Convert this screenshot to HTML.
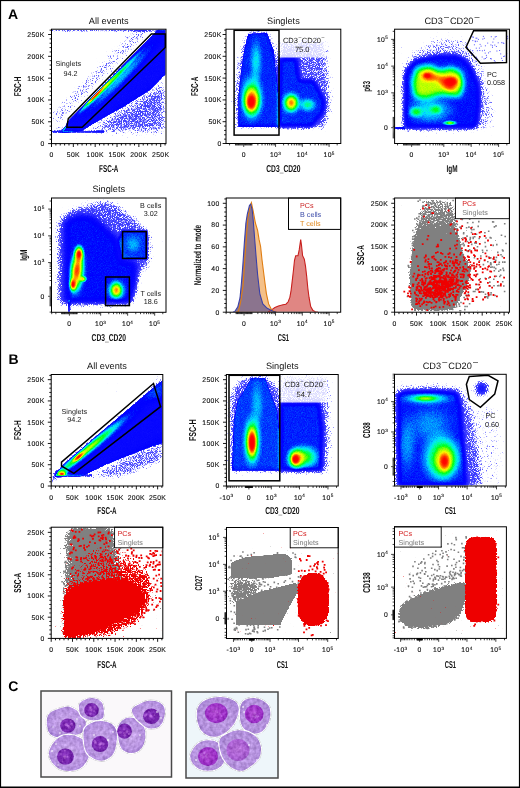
<!DOCTYPE html>
<html><head><meta charset="utf-8"><style>
html,body{margin:0;padding:0;background:#fff;width:520px;height:788px;overflow:hidden}
svg{display:block;will-change:transform}
text{font-family:"Liberation Sans", sans-serif;text-rendering:geometricPrecision}
</style></head><body>
<svg width="520" height="788" viewBox="0 0 520 788" xmlns="http://www.w3.org/2000/svg" font-family='"Liberation Sans", sans-serif'>
<defs><filter id="jet" x="0" y="0" width="520" height="788" filterUnits="userSpaceOnUse" color-interpolation-filters="sRGB">
<feGaussianBlur in="SourceAlpha" stdDeviation="0.7" result="b"/>
<feColorMatrix in="b" type="matrix" values="0 0 0 1 0 0 0 0 1 0 0 0 0 1 0 0 0 0 0 1" result="g"/>
<feTurbulence type="fractalNoise" baseFrequency="1.2" numOctaves="2" seed="3" result="n"/>
<feColorMatrix in="n" type="matrix" values="1 0 0 0 0 1 0 0 0 0 1 0 0 0 0 0 0 0 0 1" result="ng"/>
<feComposite in="g" in2="ng" operator="arithmetic" k1="-0.25" k2="1.125" k3="0.25" k4="-0.125" result="gc"/>
<feComponentTransfer in="gc" result="col"><feFuncR type="table" tableValues="0.42 0.408 0.397 0.385 0.373 0.362 0.35 0.339 0.327 0.315 0.304 0.292 0.28 0.269 0.257 0.245 0.234 0.222 0.21 0.198 0.181 0.164 0.148 0.131 0.114 0.0967 0.0798 0.0629 0.0459 0.0362 0.0305 0.0247 0.0189 0.0132 0.00739 0.00162 0 0 0 0 0 0 0 0 0 0 0 0 0 0 0 0 0.185 0.375 0.566 0.73 0.889 1 1 1 1 1 1 1"/><feFuncG type="table" tableValues="0.42 0.408 0.397 0.385 0.373 0.362 0.35 0.339 0.327 0.315 0.304 0.292 0.28 0.269 0.257 0.245 0.234 0.222 0.21 0.198 0.181 0.164 0.148 0.131 0.114 0.0967 0.0798 0.0629 0.0459 0.0362 0.0305 0.0247 0.0189 0.0132 0.00739 0.00162 0.0457 0.109 0.173 0.263 0.374 0.486 0.597 0.708 0.819 0.909 0.94 0.972 1 1 1 1 1 1 1 1 1 0.94 0.742 0.544 0.361 0.182 0.0397 0"/><feFuncB type="table" tableValues="1 1 1 1 1 1 1 1 1 1 1 1 1 1 1 1 1 1 1 1 1 1 1 1 1 1 1 1 1 1 1 1 1 1 1 1 1 1 1 1 1 1 1 1 1 0.966 0.839 0.712 0.581 0.422 0.263 0.105 0.0692 0.0375 0.00571 0 0 0 0 0 0 0 0 0"/></feComponentTransfer>
<feComposite in="g" in2="ng" operator="arithmetic" k1="0" k2="1" k3="-0.5" k4="0.5" result="d"/>
<feColorMatrix in="d" type="matrix" values="0 0 0 0 0 0 0 0 0 0 0 0 0 0 0 1 0 0 0 0" result="d2"/>
<feComponentTransfer in="d2" result="m"><feFuncA type="table" tableValues="0.00 0.00 0.00 0.00 0.00 0.00 0.00 0.00 0.00 0.00 0.00 0.00 0.00 0.00 0.00 0.00 0.00 0.00 0.00 0.00 0.00 0.12 0.37 0.63 0.87 1.00 1.00 1.00 1.00 1.00 1.00 1.00 1.00 1.00 1.00 1.00 1.00 1.00 1.00 1.00 1.00 1.00 1.00 1.00 1.00 1.00 1.00 1.00 1.00 1.00"/></feComponentTransfer>
<feComposite in="col" in2="m" operator="in" result="c2"/>
<feGaussianBlur in="c2" stdDeviation="0.4"/>
</filter><radialGradient id="rgf"><stop offset="0" stop-opacity="1"/><stop offset="0.45" stop-opacity="0.93"/><stop offset="0.7" stop-opacity="0.6"/><stop offset="0.88" stop-opacity="0.2"/><stop offset="1" stop-opacity="0"/></radialGradient><radialGradient id="rg"><stop offset="0" stop-opacity="1"/><stop offset="0.2" stop-opacity="0.92"/><stop offset="0.4" stop-opacity="0.7"/><stop offset="0.6" stop-opacity="0.42"/><stop offset="0.8" stop-opacity="0.16"/><stop offset="1" stop-opacity="0"/></radialGradient><filter id="bl0_5" x="0" y="0" width="520" height="788" filterUnits="userSpaceOnUse"><feGaussianBlur stdDeviation="0.5"/></filter><filter id="bl1" x="0" y="0" width="520" height="788" filterUnits="userSpaceOnUse"><feGaussianBlur stdDeviation="1"/></filter><filter id="bl1_5" x="0" y="0" width="520" height="788" filterUnits="userSpaceOnUse"><feGaussianBlur stdDeviation="1.5"/></filter><filter id="bl2" x="0" y="0" width="520" height="788" filterUnits="userSpaceOnUse"><feGaussianBlur stdDeviation="2"/></filter><filter id="bl2_5" x="0" y="0" width="520" height="788" filterUnits="userSpaceOnUse"><feGaussianBlur stdDeviation="2.5"/></filter><filter id="bl3" x="0" y="0" width="520" height="788" filterUnits="userSpaceOnUse"><feGaussianBlur stdDeviation="3"/></filter><filter id="bl4" x="0" y="0" width="520" height="788" filterUnits="userSpaceOnUse"><feGaussianBlur stdDeviation="4"/></filter><filter id="bl6" x="0" y="0" width="520" height="788" filterUnits="userSpaceOnUse"><feGaussianBlur stdDeviation="6"/></filter><filter id="mg" x="0" y="0" width="520" height="788" filterUnits="userSpaceOnUse" color-interpolation-filters="sRGB">
<feGaussianBlur in="SourceAlpha" stdDeviation="0.6" result="b"/>
<feColorMatrix in="b" type="matrix" values="0 0 0 1 0 0 0 0 1 0 0 0 0 1 0 0 0 0 0 1" result="g"/>
<feTurbulence type="fractalNoise" baseFrequency="0.6" numOctaves="2" seed="11" result="n"/>
<feColorMatrix in="n" type="matrix" values="1 0 0 0 0 1 0 0 0 0 1 0 0 0 0 0 0 0 0 1" result="ng"/>
<feComposite in="g" in2="ng" operator="arithmetic" k1="0" k2="1" k3="-0.6" k4="0.6" result="d"/>
<feColorMatrix in="d" type="matrix" values="0 0 0 0 0 0 0 0 0 0 0 0 0 0 0 1 0 0 0 0" result="d2"/>
<feComponentTransfer in="d2" result="m"><feFuncA type="table" tableValues="0.00 0.00 0.00 0.00 0.00 0.00 0.00 0.00 0.00 0.00 0.00 0.00 0.00 0.00 0.00 0.00 0.00 0.00 0.00 0.00 0.00 0.00 0.00 0.00 0.10 0.50 0.90 1.00 1.00 1.00 1.00 1.00 1.00 1.00 1.00 1.00 1.00 1.00 1.00 1.00 1.00 1.00 1.00 1.00 1.00 1.00 1.00 1.00 1.00 1.00"/></feComponentTransfer>
<feFlood flood-color="#808080" result="fl"/>
<feComposite in="fl" in2="m" operator="in" result="c2"/>
<feGaussianBlur in="c2" stdDeviation="0.25"/>
</filter><linearGradient id="vg6" gradientUnits="userSpaceOnUse" x1="0" y1="198" x2="0" y2="255"><stop offset="0" stop-opacity="0.2"/><stop offset="0.45" stop-opacity="0.3"/><stop offset="1" stop-opacity="0.75"/></linearGradient><filter id="mr" x="0" y="0" width="520" height="788" filterUnits="userSpaceOnUse" color-interpolation-filters="sRGB">
<feGaussianBlur in="SourceAlpha" stdDeviation="0.6" result="b"/>
<feColorMatrix in="b" type="matrix" values="0 0 0 1 0 0 0 0 1 0 0 0 0 1 0 0 0 0 0 1" result="g"/>
<feTurbulence type="fractalNoise" baseFrequency="0.6" numOctaves="2" seed="13" result="n"/>
<feColorMatrix in="n" type="matrix" values="1 0 0 0 0 1 0 0 0 0 1 0 0 0 0 0 0 0 0 1" result="ng"/>
<feComposite in="g" in2="ng" operator="arithmetic" k1="0" k2="1" k3="-0.6" k4="0.6" result="d"/>
<feColorMatrix in="d" type="matrix" values="0 0 0 0 0 0 0 0 0 0 0 0 0 0 0 1 0 0 0 0" result="d2"/>
<feComponentTransfer in="d2" result="m"><feFuncA type="table" tableValues="0.00 0.00 0.00 0.00 0.00 0.00 0.00 0.00 0.00 0.00 0.00 0.00 0.00 0.00 0.00 0.00 0.00 0.00 0.00 0.00 0.00 0.00 0.00 0.00 0.10 0.50 0.90 1.00 1.00 1.00 1.00 1.00 1.00 1.00 1.00 1.00 1.00 1.00 1.00 1.00 1.00 1.00 1.00 1.00 1.00 1.00 1.00 1.00 1.00 1.00"/></feComponentTransfer>
<feFlood flood-color="#ee0000" result="fl"/>
<feComposite in="fl" in2="m" operator="in" result="c2"/>
<feGaussianBlur in="c2" stdDeviation="0.25"/>
</filter><linearGradient id="vg10" gradientUnits="userSpaceOnUse" x1="0" y1="560" x2="0" y2="600"><stop offset="0" stop-opacity="0.06"/><stop offset="0.6" stop-opacity="0.2"/><stop offset="1" stop-opacity="0.3"/></linearGradient><radialGradient id="cyt1" cx="0.5" cy="0.5" r="0.6"><stop offset="0" stop-color="#c7a6e8"/><stop offset="0.7" stop-color="#b692df"/><stop offset="1" stop-color="#9f7bd4"/></radialGradient><filter id="tex" x="0" y="0" width="520" height="788" filterUnits="userSpaceOnUse" color-interpolation-filters="sRGB"><feTurbulence type="fractalNoise" baseFrequency="0.3" numOctaves="2" seed="9" result="n"/><feColorMatrix in="n" type="matrix" values="1 0 0 0 0 1 0 0 0 0 1 0 0 0 0 0 0 0 0 1" result="ng"/><feComposite in="SourceGraphic" in2="ng" operator="arithmetic" k1="0" k2="1" k3="0.3" k4="-0.15" result="t"/><feComposite in="t" in2="SourceAlpha" operator="in" result="t2"/><feGaussianBlur in="t2" stdDeviation="0.4"/></filter><radialGradient id="cyt2" cx="0.5" cy="0.5" r="0.6"><stop offset="0" stop-color="#c0a0e4"/><stop offset="0.7" stop-color="#b390dc"/><stop offset="1" stop-color="#a07cd2"/></radialGradient><radialGradient id="nuc1" cx="0.45" cy="0.45" r="0.6"><stop offset="0" stop-color="#8a34c0"/><stop offset="0.75" stop-color="#7324aa"/><stop offset="1" stop-color="#6a20a0"/></radialGradient><radialGradient id="nuc2" cx="0.45" cy="0.45" r="0.6"><stop offset="0" stop-color="#b04ad0"/><stop offset="0.75" stop-color="#9a2ec4"/><stop offset="1" stop-color="#8a28b6"/></radialGradient><filter id="cb" x="-20%" y="-20%" width="140%" height="140%"><feGaussianBlur stdDeviation="0.45"/></filter><clipPath id="cc1"><rect x="41.7" y="691.7" width="129" height="84.6"/></clipPath><clipPath id="cc2"><rect x="186.7" y="692.7" width="90.6" height="84.6"/></clipPath><clipPath id="c1"><rect x="52.00" y="29.70" width="113.50" height="113.40"/></clipPath><clipPath id="c2"><rect x="226.50" y="29.70" width="113.80" height="113.30"/></clipPath><clipPath id="c3"><rect x="395.10" y="29.70" width="113.80" height="113.30"/></clipPath><clipPath id="c4"><rect x="52.00" y="198.50" width="113.50" height="113.30"/></clipPath><clipPath id="c5"><rect x="226.70" y="198.50" width="113.50" height="113.20"/></clipPath><clipPath id="c6"><rect x="395.10" y="198.50" width="113.80" height="113.20"/></clipPath><clipPath id="c7"><rect x="51.70" y="375.00" width="110.60" height="110.50"/></clipPath><clipPath id="c8"><rect x="226.90" y="375.00" width="110.80" height="110.50"/></clipPath><clipPath id="c9"><rect x="395.00" y="374.80" width="110.70" height="110.70"/></clipPath><clipPath id="c10"><rect x="51.70" y="527.70" width="110.60" height="110.20"/></clipPath><clipPath id="c11"><rect x="227.00" y="528.00" width="110.70" height="110.00"/></clipPath><clipPath id="c12"><rect x="395.00" y="527.30" width="110.90" height="110.60"/></clipPath></defs>
<rect x="0" y="0" width="520" height="788" fill="#fff"/>
<g clip-path="url(#c1)"><g filter="url(#jet)"><polygon points="58.1,125.4 157.9,23.7 148.3,14.2 47.1,117.4" fill-opacity="0.16" filter="url(#bl3)"/><polygon points="60.0,133.0 68.0,126.0 60.0,126.0 53.0,131.0" fill-opacity="0.22" filter="url(#bl2)"/><polygon points="84.0,133.0 166.0,80.0 166.0,133.0" fill-opacity="0.24" filter="url(#bl4)"/><polygon points="67.3,121.8 162.2,25.1 166.0,30.0 166.0,74.0 150.0,90.0 125.0,106.0 105.0,117.0 90.0,126.0 82.0,131.0 62.0,133.0" fill-opacity="0.47" filter="url(#bl1_2)"/><rect x="52" y="130.6" width="52" height="2.200000000000017" fill-opacity="0.32" filter="url(#bl0_6)"/><rect x="52" y="30" width="114" height="1.6000000000000014" fill-opacity="0.2" filter="url(#bl0_5)"/><ellipse cx="120.4" cy="78.4" rx="75" ry="9" fill="url(#rg)" opacity="0.42" transform="rotate(-45.6 120.4 78.4)"/><ellipse cx="108.9" cy="83.7" rx="62" ry="3.2" fill="url(#rg)" opacity="0.62" transform="rotate(-45.6 108.9 83.7)"/><ellipse cx="97.2" cy="93.8" rx="34" ry="2.0" fill="url(#rg)" opacity="0.8" transform="rotate(-45.6 97.2 93.8)"/><ellipse cx="95.6" cy="95.5" rx="13" ry="1.5" fill="url(#rg)" opacity="0.86" transform="rotate(-45.6 95.6 95.5)"/><ellipse cx="64" cy="129" rx="7" ry="1.4" fill="url(#rg)" opacity="0.6" transform="rotate(-45.6 64 129)"/></g></g><polygon points="66.8,127.2 68.3,118.6 151.3,34.0 165.3,34.0 165.3,47.5 82.2,127.2" fill="none" stroke="#000" stroke-width="1.5" stroke-linejoin="miter"/><text x="68.20" y="66.10" font-size="7.2" text-anchor="middle" fill="#1a1a1a" font-weight="normal" >Singlets</text><text x="70.50" y="75.60" font-size="7.2" text-anchor="middle" fill="#1a1a1a" font-weight="normal" >94.2</text><path d="M51.50 143.60v3.4M55.87 143.60v1.9M60.24 143.60v1.9M64.60 143.60v1.9M68.97 143.60v1.9M73.34 143.60v3.4M77.71 143.60v1.9M82.07 143.60v1.9M86.44 143.60v1.9M90.81 143.60v1.9M95.18 143.60v3.4M99.55 143.60v1.9M103.91 143.60v1.9M108.28 143.60v1.9M112.65 143.60v1.9M117.02 143.60v3.4M121.39 143.60v1.9M125.75 143.60v1.9M130.12 143.60v1.9M134.49 143.60v1.9M138.86 143.60v3.4M143.22 143.60v1.9M147.59 143.60v1.9M151.96 143.60v1.9M156.33 143.60v1.9M160.70 143.60v3.4M165.06 143.60v1.9" stroke="#000" stroke-width="0.9" fill="none"/><text x="51.50" y="157.40" font-size="6.8" letter-spacing="0.35" text-anchor="middle" fill="#111" stroke="#111" stroke-width="0.12">0</text><text x="73.34" y="157.40" font-size="6.8" letter-spacing="0.35" text-anchor="middle" fill="#111" stroke="#111" stroke-width="0.12">50K</text><text x="95.18" y="157.40" font-size="6.8" letter-spacing="0.35" text-anchor="middle" fill="#111" stroke="#111" stroke-width="0.12">100K</text><text x="117.02" y="157.40" font-size="6.8" letter-spacing="0.35" text-anchor="middle" fill="#111" stroke="#111" stroke-width="0.12">150K</text><text x="138.86" y="157.40" font-size="6.8" letter-spacing="0.35" text-anchor="middle" fill="#111" stroke="#111" stroke-width="0.12">200K</text><text x="160.70" y="157.40" font-size="6.8" letter-spacing="0.35" text-anchor="middle" fill="#111" stroke="#111" stroke-width="0.12">250K</text><path d="M51.50 143.60h-3.4M51.50 139.24h-1.9M51.50 134.87h-1.9M51.50 130.51h-1.9M51.50 126.14h-1.9M51.50 121.78h-3.4M51.50 117.42h-1.9M51.50 113.05h-1.9M51.50 108.69h-1.9M51.50 104.32h-1.9M51.50 99.96h-3.4M51.50 95.60h-1.9M51.50 91.23h-1.9M51.50 86.87h-1.9M51.50 82.50h-1.9M51.50 78.14h-3.4M51.50 73.78h-1.9M51.50 69.41h-1.9M51.50 65.05h-1.9M51.50 60.68h-1.9M51.50 56.32h-3.4M51.50 51.96h-1.9M51.50 47.59h-1.9M51.50 43.23h-1.9M51.50 38.86h-1.9M51.50 34.50h-3.4M51.50 30.14h-1.9" stroke="#000" stroke-width="0.9" fill="none"/><text x="44.55" y="146.00" font-size="6.8" letter-spacing="0.35" text-anchor="end" fill="#111" stroke="#111" stroke-width="0.12">0</text><text x="44.55" y="124.18" font-size="6.8" letter-spacing="0.35" text-anchor="end" fill="#111" stroke="#111" stroke-width="0.12">50K</text><text x="44.55" y="102.36" font-size="6.8" letter-spacing="0.35" text-anchor="end" fill="#111" stroke="#111" stroke-width="0.12">100K</text><text x="44.55" y="80.54" font-size="6.8" letter-spacing="0.35" text-anchor="end" fill="#111" stroke="#111" stroke-width="0.12">150K</text><text x="44.55" y="58.72" font-size="6.8" letter-spacing="0.35" text-anchor="end" fill="#111" stroke="#111" stroke-width="0.12">200K</text><text x="44.55" y="36.90" font-size="6.8" letter-spacing="0.35" text-anchor="end" fill="#111" stroke="#111" stroke-width="0.12">250K</text><rect x="51.50" y="29.20" width="114.50" height="114.40" fill="none" stroke="#000" stroke-width="1.0"/><text x="108.75" y="23.60" font-size="9.2" text-anchor="middle" fill="#111" font-weight="normal" >All events</text><text transform="translate(108.75,171.80) scale(0.63,1)" font-size="10" font-weight="bold" text-anchor="middle" fill="#111">FSC-A</text><text transform="translate(20.80,86.40) rotate(-90) scale(0.64,1)" font-size="10" font-weight="bold" text-anchor="middle" fill="#111">FSC-H</text><g clip-path="url(#c2)"><g filter="url(#jet)"><polygon points="234.0,128.0 234.0,95.0 238.0,60.0 244.0,38.0 250.0,30.0 268.0,30.0 274.0,45.0 279.0,70.0 282.0,128.0" fill-opacity="0.24" filter="url(#bl3)"/><polygon points="238.5,127.0 238.6,96.0 241.0,73.0 244.3,51.0 248.0,34.0 267.0,33.0 273.8,51.0 276.0,73.0 278.3,96.0 279.0,127.0" fill-opacity="0.47" filter="url(#bl1_8)"/><ellipse cx="256" cy="62" rx="8" ry="28" fill="url(#rg)" opacity="0.3"/><ellipse cx="252" cy="98" rx="14" ry="28" fill="url(#rg)" opacity="0.66"/><ellipse cx="251.5" cy="101" rx="11" ry="18" fill="url(#rg)" opacity="0.86"/><ellipse cx="251.1" cy="102.9" rx="6" ry="9.5" fill="url(#rg)" opacity="0.95"/><polygon points="279.0,127.0 279.0,58.0 297.0,58.0 300.0,80.0 314.0,80.0 325.0,100.0 324.0,112.0 312.0,127.0" fill-opacity="0.47" filter="url(#bl2)"/><polygon points="279.0,128.0 279.0,40.0 326.0,40.0 331.0,100.0 327.0,129.0" fill-opacity="0.24" filter="url(#bl3)"/><ellipse cx="291.3" cy="102.9" rx="12.5" ry="14" fill="url(#rg)" opacity="0.56"/><ellipse cx="291.3" cy="102.9" rx="8.5" ry="10.5" fill="url(#rg)" opacity="0.68"/><ellipse cx="307.7" cy="104.8" rx="11" ry="9" fill="url(#rg)" opacity="0.42"/></g><rect x="280" y="30" width="46" height="27.5" fill="#fff" fill-opacity="0.8"/></g><rect x="234.1" y="30.3" width="44.900000000000006" height="104.8" fill="none" stroke="#000" stroke-width="1.5"/><text x="303.70" y="42.80" font-size="7.5" text-anchor="middle" fill="#1a1a1a" font-weight="normal" >CD3<tspan dx="0.5" dy="-3.9" font-size="5.2">–</tspan><tspan dx="0.5" dy="3.9">CD20</tspan><tspan dx="0.5" dy="-3.9" font-size="5.2">–</tspan></text><text x="302.20" y="52.40" font-size="7.5" text-anchor="middle" fill="#1a1a1a" font-weight="normal" >75.0</text><path d="M251.96 143.50v1.9M235.47 143.50v1.9M257.86 143.50v1.9M229.57 143.50v1.9M262.02 143.50v1.9M265.15 143.50v1.9M267.65 143.50v1.9M269.71 143.50v1.9M271.47 143.50v1.9M273.00 143.50v1.9M274.35 143.50v1.9M275.57 143.50v3.4M283.60 143.50v1.9M288.31 143.50v1.9M291.65 143.50v1.9M294.25 143.50v1.9M296.37 143.50v1.9M298.16 143.50v1.9M299.72 143.50v1.9M301.09 143.50v1.9M302.31 143.50v3.4M310.38 143.50v1.9M315.09 143.50v1.9M318.44 143.50v1.9M321.04 143.50v1.9M323.16 143.50v1.9M324.95 143.50v1.9M326.51 143.50v1.9M327.88 143.50v1.9M329.10 143.50v3.4M337.17 143.50v1.9M243.72 143.50v3.4M244.61 143.50v1.9M242.82 143.50v1.9M245.50 143.50v1.9M241.93 143.50v1.9M246.38 143.50v1.9M241.05 143.50v1.9M247.24 143.50v1.9M240.19 143.50v1.9M248.09 143.50v1.9M239.34 143.50v1.9M248.91 143.50v1.9M238.52 143.50v1.9M249.71 143.50v1.9M237.72 143.50v1.9M250.49 143.50v1.9M236.94 143.50v1.9M251.24 143.50v1.9M236.20 143.50v1.9" stroke="#000" stroke-width="0.75" fill="none"/><text x="243.72" y="157.30" font-size="6.8" letter-spacing="0.35" text-anchor="middle" fill="#111" stroke="#111" stroke-width="0.12">0</text><text x="275.57" y="157.30" font-size="6.8" letter-spacing="0.35" text-anchor="middle" fill="#111" stroke="#111" stroke-width="0.12">10<tspan dy="-2.6" font-size="4.6">3</tspan></text><text x="302.31" y="157.30" font-size="6.8" letter-spacing="0.35" text-anchor="middle" fill="#111" stroke="#111" stroke-width="0.12">10<tspan dy="-2.6" font-size="4.6">4</tspan></text><text x="329.10" y="157.30" font-size="6.8" letter-spacing="0.35" text-anchor="middle" fill="#111" stroke="#111" stroke-width="0.12">10<tspan dy="-2.6" font-size="4.6">5</tspan></text><path d="M226.00 143.50h-3.4M226.00 139.14h-1.9M226.00 134.78h-1.9M226.00 130.42h-1.9M226.00 126.06h-1.9M226.00 121.70h-3.4M226.00 117.34h-1.9M226.00 112.98h-1.9M226.00 108.62h-1.9M226.00 104.26h-1.9M226.00 99.90h-3.4M226.00 95.54h-1.9M226.00 91.18h-1.9M226.00 86.82h-1.9M226.00 82.46h-1.9M226.00 78.10h-3.4M226.00 73.74h-1.9M226.00 69.38h-1.9M226.00 65.02h-1.9M226.00 60.66h-1.9M226.00 56.30h-3.4M226.00 51.94h-1.9M226.00 47.58h-1.9M226.00 43.22h-1.9M226.00 38.86h-1.9M226.00 34.50h-3.4M226.00 30.13h-1.9" stroke="#000" stroke-width="0.9" fill="none"/><text x="221.65" y="145.90" font-size="6.8" letter-spacing="0.35" text-anchor="end" fill="#111" stroke="#111" stroke-width="0.12">0</text><text x="221.65" y="124.10" font-size="6.8" letter-spacing="0.35" text-anchor="end" fill="#111" stroke="#111" stroke-width="0.12">50K</text><text x="221.65" y="102.30" font-size="6.8" letter-spacing="0.35" text-anchor="end" fill="#111" stroke="#111" stroke-width="0.12">100K</text><text x="221.65" y="80.50" font-size="6.8" letter-spacing="0.35" text-anchor="end" fill="#111" stroke="#111" stroke-width="0.12">150K</text><text x="221.65" y="58.70" font-size="6.8" letter-spacing="0.35" text-anchor="end" fill="#111" stroke="#111" stroke-width="0.12">200K</text><text x="221.65" y="36.90" font-size="6.8" letter-spacing="0.35" text-anchor="end" fill="#111" stroke="#111" stroke-width="0.12">250K</text><rect x="226.00" y="29.20" width="114.80" height="114.30" fill="none" stroke="#000" stroke-width="1.0"/><text x="283.40" y="23.60" font-size="9.2" text-anchor="middle" fill="#111" font-weight="normal" >Singlets</text><text transform="translate(283.40,171.70) scale(0.67,1)" font-size="10" font-weight="bold" text-anchor="middle" fill="#111">CD3_CD20</text><text transform="translate(198.40,86.35) rotate(-90) scale(0.63,1)" font-size="10" font-weight="bold" text-anchor="middle" fill="#111">FSC-A</text><g clip-path="url(#c3)"><g filter="url(#jet)"><polygon points="401.0,130.0 401.0,73.0 406.0,60.0 415.7,49.0 427.0,43.0 438.4,39.5 449.7,37.0 461.0,39.5 470.0,45.0 479.0,58.0 486.0,73.0 491.0,96.0 494.0,114.0 490.0,130.0" fill-opacity="0.18" filter="url(#bl4)"/><polygon points="404.3,128.5 404.3,76.0 406.6,68.8 415.7,59.8 438.4,55.2 456.5,55.2 465.6,59.8 472.4,68.8 479.2,84.7 480.0,102.9 478.0,123.3 475.0,128.5" fill-opacity="0.48" filter="url(#bl2)"/><polygon points="412.0,82.0 416.0,68.0 430.0,65.0 440.0,70.0 452.0,67.0 462.0,72.0 464.0,86.0 460.0,97.0 440.0,95.0 425.0,99.0 414.0,97.0" fill-opacity="0.7" filter="url(#bl3)"/><polygon points="425.0,77.0 440.0,75.0 452.0,80.0 455.0,90.0 448.0,90.0 438.0,82.0" fill-opacity="0.6" filter="url(#bl2)"/><ellipse cx="428" cy="76" rx="11" ry="8" fill="url(#rg)" opacity="0.75"/><ellipse cx="451" cy="82" rx="13" ry="10" fill="url(#rg)" opacity="0.88"/><ellipse cx="451" cy="81.3" rx="7.5" ry="5" fill="url(#rg)" opacity="1.0"/><ellipse cx="427" cy="75.6" rx="4.5" ry="3.2" fill="url(#rg)" opacity="1.0"/><ellipse cx="430" cy="110" rx="30" ry="18" fill="url(#rg)" opacity="0.36"/><ellipse cx="415.7" cy="112" rx="9" ry="7" fill="url(#rg)" opacity="0.45"/><ellipse cx="436" cy="109.7" rx="8" ry="6" fill="url(#rg)" opacity="0.35"/><ellipse cx="450" cy="123" rx="9" ry="3.2" fill="url(#rg)" opacity="0.7"/><rect x="395" y="126.8" width="10" height="2.500000000000014" fill-opacity="0.45" filter="url(#bl0_5)"/></g><rect x="485" y="68" width="24" height="19" fill="#fff" fill-opacity="0.8"/><path d="M482.3 39.1h1.0M494.7 37.0h1.0M490.4 44.9h1.0M472.7 37.4h1.0M486.1 57.3h1.0M474.7 41.0h1.0M493.8 60.6h1.0M491.9 45.7h1.0M507.1 36.3h1.0M502.6 42.8h1.0M475.5 38.2h1.0M481.7 57.0h1.0M476.9 50.7h1.0M494.3 45.1h1.0M490.8 36.7h1.0M472.3 40.6h1.0M495.9 46.5h1.0M481.9 50.8h1.0M487.2 43.1h1.0M500.2 53.9h1.0M479.3 50.5h1.0M490.0 58.6h1.0M497.7 42.8h1.0M507.2 38.2h1.0M485.9 55.4h1.0M475.8 48.2h1.0M499.1 50.5h1.0M503.3 43.5h1.0M496.4 51.0h1.0M492.0 47.3h1.0M501.9 60.5h1.0M488.0 52.9h1.0M494.6 61.8h1.0M501.2 42.7h1.0M484.7 53.1h1.0M476.4 38.2h1.0M474.9 41.7h1.0M484.9 58.5h1.0M490.9 58.9h1.0M501.1 58.3h1.0M480.6 46.2h1.0M483.6 58.9h1.0M506.4 39.1h1.0M476.7 41.3h1.0M478.9 48.1h1.0M492.4 42.1h1.0M484.0 50.3h1.0M506.2 53.6h1.0M489.6 51.7h1.0M495.7 36.5h1.0M504.2 56.1h1.0M503.2 56.5h1.0M484.9 45.8h1.0M472.4 36.8h1.0M477.9 39.4h1.0M482.9 36.4h1.0M473.9 44.8h1.0M493.3 39.0h1.0M479.6 44.4h1.0M483.8 38.3h1.0" stroke="#2020ff" stroke-width="1.0" opacity="0.75" fill="none"/></g><polygon points="473.6,30.7 506.5,30.7 506.5,62.5 480.4,63.2 466.0,47.3" fill="none" stroke="#000" stroke-width="1.5" stroke-linejoin="miter"/><text x="487.00" y="76.80" font-size="7.2" text-anchor="start" fill="#1a1a1a" font-weight="normal" >PC</text><text x="487.00" y="84.70" font-size="7.2" text-anchor="start" fill="#1a1a1a" font-weight="normal" >0.058</text><path d="M419.81 143.50v1.9M403.48 143.50v1.9M425.75 143.50v1.9M397.54 143.50v1.9M429.97 143.50v1.9M433.16 143.50v1.9M435.70 143.50v1.9M437.81 143.50v1.9M439.61 143.50v1.9M441.17 143.50v1.9M442.56 143.50v1.9M443.80 143.50v3.4M452.01 143.50v1.9M456.84 143.50v1.9M460.26 143.50v1.9M462.92 143.50v1.9M465.09 143.50v1.9M466.92 143.50v1.9M468.51 143.50v1.9M469.91 143.50v1.9M471.17 143.50v3.4M479.42 143.50v1.9M484.25 143.50v1.9M487.68 143.50v1.9M490.34 143.50v1.9M492.51 143.50v1.9M494.34 143.50v1.9M495.93 143.50v1.9M497.34 143.50v1.9M498.59 143.50v3.4M506.85 143.50v1.9M411.64 143.50v3.4M412.52 143.50v1.9M410.76 143.50v1.9M413.40 143.50v1.9M409.88 143.50v1.9M414.27 143.50v1.9M409.02 143.50v1.9M415.12 143.50v1.9M408.16 143.50v1.9M415.96 143.50v1.9M407.33 143.50v1.9M416.77 143.50v1.9M406.51 143.50v1.9M417.57 143.50v1.9M405.71 143.50v1.9M418.34 143.50v1.9M404.94 143.50v1.9M419.09 143.50v1.9M404.20 143.50v1.9" stroke="#000" stroke-width="0.75" fill="none"/><text x="411.64" y="157.30" font-size="6.8" letter-spacing="0.35" text-anchor="middle" fill="#111" stroke="#111" stroke-width="0.12">0</text><text x="443.80" y="157.30" font-size="6.8" letter-spacing="0.35" text-anchor="middle" fill="#111" stroke="#111" stroke-width="0.12">10<tspan dy="-2.6" font-size="4.6">3</tspan></text><text x="471.17" y="157.30" font-size="6.8" letter-spacing="0.35" text-anchor="middle" fill="#111" stroke="#111" stroke-width="0.12">10<tspan dy="-2.6" font-size="4.6">4</tspan></text><text x="498.59" y="157.30" font-size="6.8" letter-spacing="0.35" text-anchor="middle" fill="#111" stroke="#111" stroke-width="0.12">10<tspan dy="-2.6" font-size="4.6">5</tspan></text><path d="M394.60 117.42h-1.9M394.60 137.90h-1.9M394.60 110.89h-1.9M394.60 106.54h-1.9M394.60 103.33h-1.9M394.60 100.80h-1.9M394.60 98.72h-1.9M394.60 96.95h-1.9M394.60 95.41h-1.9M394.60 94.05h-1.9M394.60 92.84h-3.4M394.60 84.81h-1.9M394.60 80.10h-1.9M394.60 76.76h-1.9M394.60 74.17h-1.9M394.60 72.05h-1.9M394.60 70.26h-1.9M394.60 68.71h-1.9M394.60 67.35h-1.9M394.60 66.12h-3.4M394.60 58.07h-1.9M394.60 53.36h-1.9M394.60 50.02h-1.9M394.60 47.43h-1.9M394.60 45.31h-1.9M394.60 43.52h-1.9M394.60 41.97h-1.9M394.60 40.60h-1.9M394.60 39.38h-3.4M394.60 31.33h-1.9M394.60 127.66h-3.4M394.60 126.50h-1.9M394.60 128.82h-1.9M394.60 125.35h-1.9M394.60 129.97h-1.9M394.60 124.23h-1.9M394.60 131.10h-1.9M394.60 123.13h-1.9M394.60 132.19h-1.9M394.60 122.07h-1.9M394.60 133.25h-1.9M394.60 121.05h-1.9M394.60 134.27h-1.9M394.60 120.08h-1.9M394.60 135.24h-1.9M394.60 119.15h-1.9M394.60 136.17h-1.9M394.60 118.27h-1.9M394.60 137.06h-1.9" stroke="#000" stroke-width="0.75" fill="none"/><text x="388.05" y="130.06" font-size="6.8" letter-spacing="0.35" text-anchor="end" fill="#111" stroke="#111" stroke-width="0.12">0</text><text x="388.05" y="95.24" font-size="6.8" letter-spacing="0.35" text-anchor="end" fill="#111" stroke="#111" stroke-width="0.12">10<tspan dy="-2.6" font-size="4.6">3</tspan></text><text x="388.05" y="68.52" font-size="6.8" letter-spacing="0.35" text-anchor="end" fill="#111" stroke="#111" stroke-width="0.12">10<tspan dy="-2.6" font-size="4.6">4</tspan></text><text x="388.05" y="41.78" font-size="6.8" letter-spacing="0.35" text-anchor="end" fill="#111" stroke="#111" stroke-width="0.12">10<tspan dy="-2.6" font-size="4.6">5</tspan></text><rect x="394.60" y="29.20" width="114.80" height="114.30" fill="none" stroke="#000" stroke-width="1.0"/><text x="452.00" y="23.60" font-size="9.2" text-anchor="middle" fill="#111" font-weight="normal" >CD3<tspan dx="1.1" dy="-4" font-size="9">–</tspan><tspan dx="1.1" dy="4">CD20</tspan><tspan dx="1.1" dy="-4" font-size="9">–</tspan></text><text transform="translate(452.00,171.70) scale(0.645,1)" font-size="10" font-weight="bold" text-anchor="middle" fill="#111">IgM</text><text transform="translate(370.00,86.35) rotate(-90) scale(0.64,1)" font-size="10" font-weight="bold" text-anchor="middle" fill="#111">p63</text><g clip-path="url(#c4)"><g filter="url(#jet)"><polygon points="56.8,304.0 56.8,223.2 63.6,214.2 72.7,207.3 84.0,205.0 95.4,201.7 106.7,200.5 118.0,205.0 129.4,214.2 140.8,223.2 150.5,232.3 151.0,262.0 140.0,275.0 136.0,290.0 132.0,304.0" fill-opacity="0.26" filter="url(#bl3)"/><polygon points="64.7,303.0 64.7,222.0 72.7,217.0 84.0,215.0 95.4,218.0 104.5,227.0 118.0,239.0 121.0,259.5 136.2,261.8 136.0,282.0 131.0,303.0" fill-opacity="0.42" filter="url(#bl3)"/><polygon points="118.0,241.0 122.0,231.0 147.0,231.0 147.0,259.0 122.0,259.0" fill-opacity="0.47" filter="url(#bl1)"/><ellipse cx="133" cy="244" rx="10" ry="11" fill="url(#rg)" opacity="0.2"/><ellipse cx="77" cy="272" rx="11" ry="31" fill="url(#rg)" opacity="0.6" transform="rotate(5 77 272)"/><ellipse cx="77" cy="270" rx="8" ry="26" fill="url(#rg)" opacity="0.8" transform="rotate(6 77 270)"/><ellipse cx="79" cy="254" rx="6.5" ry="11" fill="url(#rg)" opacity="1.0"/><ellipse cx="73" cy="284.5" rx="5" ry="9" fill="url(#rg)" opacity="1.0"/><ellipse cx="83" cy="279" rx="5" ry="4" fill="url(#rg)" opacity="0.75"/><ellipse cx="116.3" cy="290.2" rx="12" ry="14" fill="url(#rg)" opacity="0.58"/><ellipse cx="116.3" cy="290.2" rx="7.5" ry="9.5" fill="url(#rg)" opacity="0.66"/><rect x="68" y="300" width="2.5" height="12" fill-opacity="0.35" filter="url(#bl0_5)"/></g></g><rect x="122.6" y="231.6" width="23.599999999999994" height="26.799999999999983" fill="none" stroke="#000" stroke-width="1.5"/><rect x="105.6" y="277" width="23.80000000000001" height="28.600000000000023" fill="none" stroke="#000" stroke-width="1.5"/><text x="150.70" y="207.80" font-size="7.2" text-anchor="middle" fill="#1a1a1a" font-weight="normal" >B cells</text><text x="150.70" y="216.00" font-size="7.2" text-anchor="middle" fill="#1a1a1a" font-weight="normal" >3.02</text><text x="150.70" y="295.80" font-size="7.2" text-anchor="middle" fill="#1a1a1a" font-weight="normal" >T cells</text><text x="150.70" y="303.80" font-size="7.2" text-anchor="middle" fill="#1a1a1a" font-weight="normal" >18.6</text><path d="M77.20 312.30v1.9M61.60 312.30v1.9M82.95 312.30v1.9M55.85 312.30v1.9M87.08 312.30v1.9M51.73 312.30v1.9M90.21 312.30v1.9M92.70 312.30v1.9M94.78 312.30v1.9M96.55 312.30v1.9M98.09 312.30v1.9M99.45 312.30v1.9M100.67 312.30v3.4M108.77 312.30v1.9M113.52 312.30v1.9M116.89 312.30v1.9M119.51 312.30v1.9M121.65 312.30v1.9M123.46 312.30v1.9M125.03 312.30v1.9M126.41 312.30v1.9M127.65 312.30v3.4M135.78 312.30v1.9M140.54 312.30v1.9M143.92 312.30v1.9M146.54 312.30v1.9M148.68 312.30v1.9M150.49 312.30v1.9M152.06 312.30v1.9M153.44 312.30v1.9M154.68 312.30v3.4M162.81 312.30v1.9M69.40 312.30v3.4M70.24 312.30v1.9M68.56 312.30v1.9M71.07 312.30v1.9M67.73 312.30v1.9M71.90 312.30v1.9M66.90 312.30v1.9M72.71 312.30v1.9M66.09 312.30v1.9M73.51 312.30v1.9M65.29 312.30v1.9M74.29 312.30v1.9M64.51 312.30v1.9M75.05 312.30v1.9M63.75 312.30v1.9M75.79 312.30v1.9M63.01 312.30v1.9M76.51 312.30v1.9M62.30 312.30v1.9" stroke="#000" stroke-width="0.75" fill="none"/><text x="69.40" y="326.10" font-size="6.8" letter-spacing="0.35" text-anchor="middle" fill="#111" stroke="#111" stroke-width="0.12">0</text><text x="100.67" y="326.10" font-size="6.8" letter-spacing="0.35" text-anchor="middle" fill="#111" stroke="#111" stroke-width="0.12">10<tspan dy="-2.6" font-size="4.6">3</tspan></text><text x="127.65" y="326.10" font-size="6.8" letter-spacing="0.35" text-anchor="middle" fill="#111" stroke="#111" stroke-width="0.12">10<tspan dy="-2.6" font-size="4.6">4</tspan></text><text x="154.68" y="326.10" font-size="6.8" letter-spacing="0.35" text-anchor="middle" fill="#111" stroke="#111" stroke-width="0.12">10<tspan dy="-2.6" font-size="4.6">5</tspan></text><path d="M51.50 286.83h-1.9M51.50 305.79h-1.9M51.50 280.51h-1.9M51.50 312.10h-1.9M51.50 276.22h-1.9M51.50 273.04h-1.9M51.50 270.52h-1.9M51.50 268.44h-1.9M51.50 266.68h-1.9M51.50 265.14h-1.9M51.50 263.78h-1.9M51.50 262.57h-3.4M51.50 254.54h-1.9M51.50 249.83h-1.9M51.50 246.49h-1.9M51.50 243.90h-1.9M51.50 241.78h-1.9M51.50 239.99h-1.9M51.50 238.44h-1.9M51.50 237.07h-1.9M51.50 235.84h-3.4M51.50 227.79h-1.9M51.50 223.08h-1.9M51.50 219.73h-1.9M51.50 217.14h-1.9M51.50 215.02h-1.9M51.50 213.23h-1.9M51.50 211.68h-1.9M51.50 210.31h-1.9M51.50 209.08h-3.4M51.50 201.03h-1.9M51.50 296.31h-3.4M51.50 295.25h-1.9M51.50 297.36h-1.9M51.50 294.21h-1.9M51.50 298.41h-1.9M51.50 293.18h-1.9M51.50 299.44h-1.9M51.50 292.17h-1.9M51.50 300.45h-1.9M51.50 291.19h-1.9M51.50 301.42h-1.9M51.50 290.25h-1.9M51.50 302.37h-1.9M51.50 289.34h-1.9M51.50 303.28h-1.9M51.50 288.46h-1.9M51.50 304.15h-1.9M51.50 287.63h-1.9M51.50 304.99h-1.9" stroke="#000" stroke-width="0.75" fill="none"/><text x="44.55" y="298.71" font-size="6.8" letter-spacing="0.35" text-anchor="end" fill="#111" stroke="#111" stroke-width="0.12">0</text><text x="44.55" y="264.97" font-size="6.8" letter-spacing="0.35" text-anchor="end" fill="#111" stroke="#111" stroke-width="0.12">10<tspan dy="-2.6" font-size="4.6">3</tspan></text><text x="44.55" y="238.24" font-size="6.8" letter-spacing="0.35" text-anchor="end" fill="#111" stroke="#111" stroke-width="0.12">10<tspan dy="-2.6" font-size="4.6">4</tspan></text><text x="44.55" y="211.48" font-size="6.8" letter-spacing="0.35" text-anchor="end" fill="#111" stroke="#111" stroke-width="0.12">10<tspan dy="-2.6" font-size="4.6">5</tspan></text><rect x="51.50" y="198.00" width="114.50" height="114.30" fill="none" stroke="#000" stroke-width="1.0"/><text x="108.75" y="192.40" font-size="9.2" text-anchor="middle" fill="#111" font-weight="normal" >Singlets</text><text transform="translate(108.75,340.90) scale(0.67,1)" font-size="10" font-weight="bold" text-anchor="middle" fill="#111">CD3_CD20</text><text transform="translate(26.90,255.15) rotate(-90) scale(0.645,1)" font-size="10" font-weight="bold" text-anchor="middle" fill="#111">IgM</text><g clip-path="url(#c5)"><path d="M268.0 312.0 L271.5 309.9 L274.9 307.6 L278.4 305.9 L283.0 304.7 L285.9 304.2 L288.2 301.8 L289.9 297.2 L291.1 290.3 L292.2 281.1 L293.4 270.7 L294.5 260.3 L295.7 255.7 L298.0 255.7 L299.2 249.9 L300.7 239.5 L301.5 245.3 L302.6 255.7 L304.3 259.2 L305.5 266.1 L306.7 276.5 L307.8 288.0 L309.0 297.2 L310.7 306.5 L313.0 310.5 L315.3 311.7 L318.0 312.0Z" fill="#e08683" stroke="none"/><path d="M236.0 312.0 L238.5 311.5 L241.0 300.0 L243.0 286.0 L245.0 256.8 L246.6 234.8 L248.0 217.0 L250.3 205.4 L251.4 202.7 L253.2 211.2 L255.4 223.0 L257.6 230.4 L259.0 239.2 L260.6 246.5 L262.0 259.8 L263.5 271.5 L265.0 283.3 L266.4 293.6 L268.6 303.9 L271.6 309.8 L274.5 311.8 L277.0 312.0Z" fill="#f4c088" stroke="none"/><path d="M233.0 312.0 L234.8 311.5 L237.8 306.8 L240.0 298.0 L241.4 283.3 L242.9 264.2 L244.4 242.1 L245.9 223.0 L247.3 214.2 L249.5 205.4 L250.7 204.2 L252.2 209.8 L253.2 220.0 L254.7 239.2 L256.1 256.8 L257.6 274.5 L259.8 293.6 L262.8 303.9 L267.2 308.3 L273.0 311.2 L276.0 312.0Z" fill="#85708e" stroke="none" fill-opacity="0.95"/><path d="M268.0 312.0 L271.5 309.9 L274.9 307.6 L278.4 305.9 L283.0 304.7 L285.9 304.2 L288.2 301.8 L289.9 297.2 L291.1 290.3 L292.2 281.1 L293.4 270.7 L294.5 260.3 L295.7 255.7 L298.0 255.7 L299.2 249.9 L300.7 239.5 L301.5 245.3 L302.6 255.7 L304.3 259.2 L305.5 266.1 L306.7 276.5 L307.8 288.0 L309.0 297.2 L310.7 306.5 L313.0 310.5 L315.3 311.7 L318.0 312.0" fill="none" stroke="#c8201e" stroke-width="1.1"/><path d="M236.0 312.0 L238.5 311.5 L241.0 300.0 L243.0 286.0 L245.0 256.8 L246.6 234.8 L248.0 217.0 L250.3 205.4 L251.4 202.7 L253.2 211.2 L255.4 223.0 L257.6 230.4 L259.0 239.2 L260.6 246.5 L262.0 259.8 L263.5 271.5 L265.0 283.3 L266.4 293.6 L268.6 303.9 L271.6 309.8 L274.5 311.8 L277.0 312.0" fill="none" stroke="#e07d12" stroke-width="1.1"/><path d="M233.0 312.0 L234.8 311.5 L237.8 306.8 L240.0 298.0 L241.4 283.3 L242.9 264.2 L244.4 242.1 L245.9 223.0 L247.3 214.2 L249.5 205.4 L250.7 204.2 L252.2 209.8 L253.2 220.0 L254.7 239.2 L256.1 256.8 L257.6 274.5 L259.8 293.6 L262.8 303.9 L267.2 308.3 L273.0 311.2 L276.0 312.0" fill="none" stroke="#3a40a8" stroke-width="1.1"/></g><rect x="288.5" y="198" width="52.2" height="31.4" fill="#fff" stroke="#000" stroke-width="1"/><text x="300.00" y="207.80" font-size="7.2" text-anchor="start" fill="#cc2a2a" font-weight="normal" >PCs</text><text x="300.00" y="216.90" font-size="7.2" text-anchor="start" fill="#3a4aa8" font-weight="normal" >B cells</text><text x="300.00" y="226.20" font-size="7.2" text-anchor="start" fill="#e08a20" font-weight="normal" >T cells</text><path d="M252.04 312.20v1.9M236.06 312.20v1.9M257.85 312.20v1.9M230.25 312.20v1.9M261.98 312.20v1.9M226.12 312.20v1.9M265.11 312.20v1.9M267.59 312.20v1.9M269.66 312.20v1.9M271.42 312.20v1.9M272.95 312.20v1.9M274.30 312.20v1.9M275.52 312.20v3.4M283.56 312.20v1.9M288.27 312.20v1.9M291.62 312.20v1.9M294.22 312.20v1.9M296.35 312.20v1.9M298.14 312.20v1.9M299.70 312.20v1.9M301.07 312.20v1.9M302.30 312.20v3.4M310.38 312.20v1.9M315.10 312.20v1.9M318.45 312.20v1.9M321.05 312.20v1.9M323.18 312.20v1.9M324.97 312.20v1.9M326.53 312.20v1.9M327.90 312.20v1.9M329.13 312.20v3.4M337.21 312.20v1.9M244.05 312.20v3.4M244.91 312.20v1.9M243.19 312.20v1.9M245.77 312.20v1.9M242.33 312.20v1.9M246.62 312.20v1.9M241.48 312.20v1.9M247.46 312.20v1.9M240.65 312.20v1.9M248.28 312.20v1.9M239.83 312.20v1.9M249.07 312.20v1.9M239.03 312.20v1.9M249.85 312.20v1.9M238.25 312.20v1.9M250.61 312.20v1.9M237.50 312.20v1.9M251.34 312.20v1.9M236.77 312.20v1.9" stroke="#000" stroke-width="0.75" fill="none"/><text x="244.05" y="326.00" font-size="6.8" letter-spacing="0.35" text-anchor="middle" fill="#111" stroke="#111" stroke-width="0.12">0</text><text x="275.52" y="326.00" font-size="6.8" letter-spacing="0.35" text-anchor="middle" fill="#111" stroke="#111" stroke-width="0.12">10<tspan dy="-2.6" font-size="4.6">3</tspan></text><text x="302.30" y="326.00" font-size="6.8" letter-spacing="0.35" text-anchor="middle" fill="#111" stroke="#111" stroke-width="0.12">10<tspan dy="-2.6" font-size="4.6">4</tspan></text><text x="329.13" y="326.00" font-size="6.8" letter-spacing="0.35" text-anchor="middle" fill="#111" stroke="#111" stroke-width="0.12">10<tspan dy="-2.6" font-size="4.6">5</tspan></text><path d="M226.20 312.20h-3.4M226.20 307.84h-1.9M226.20 303.49h-1.9M226.20 299.13h-1.9M226.20 294.78h-1.9M226.20 290.42h-3.4M226.20 286.06h-1.9M226.20 281.71h-1.9M226.20 277.35h-1.9M226.20 273.00h-1.9M226.20 268.64h-3.4M226.20 264.28h-1.9M226.20 259.93h-1.9M226.20 255.57h-1.9M226.20 251.22h-1.9M226.20 246.86h-3.4M226.20 242.50h-1.9M226.20 238.15h-1.9M226.20 233.79h-1.9M226.20 229.44h-1.9M226.20 225.08h-3.4M226.20 220.72h-1.9M226.20 216.37h-1.9M226.20 212.01h-1.9M226.20 207.66h-1.9M226.20 203.30h-3.4M226.20 198.94h-1.9" stroke="#000" stroke-width="0.9" fill="none"/><text x="219.55" y="314.60" font-size="6.8" letter-spacing="0.35" text-anchor="end" fill="#111" stroke="#111" stroke-width="0.12">0</text><text x="219.55" y="292.82" font-size="6.8" letter-spacing="0.35" text-anchor="end" fill="#111" stroke="#111" stroke-width="0.12">20</text><text x="219.55" y="271.04" font-size="6.8" letter-spacing="0.35" text-anchor="end" fill="#111" stroke="#111" stroke-width="0.12">40</text><text x="219.55" y="249.26" font-size="6.8" letter-spacing="0.35" text-anchor="end" fill="#111" stroke="#111" stroke-width="0.12">60</text><text x="219.55" y="227.48" font-size="6.8" letter-spacing="0.35" text-anchor="end" fill="#111" stroke="#111" stroke-width="0.12">80</text><text x="219.55" y="205.70" font-size="6.8" letter-spacing="0.35" text-anchor="end" fill="#111" stroke="#111" stroke-width="0.12">100</text><rect x="226.20" y="198.00" width="114.50" height="114.20" fill="none" stroke="#000" stroke-width="1.0"/><text transform="translate(283.45,340.80) scale(0.58,1)" font-size="10" font-weight="bold" text-anchor="middle" fill="#111">CS1</text><text transform="translate(201.00,255.10) rotate(-90) scale(0.63,1)" font-size="10" font-weight="bold" text-anchor="middle" fill="#111">Normalized to mode</text><g clip-path="url(#c6)"><path d="M455.3 200.7h1.6M497.0 252.4h1.6M424.6 292.1h1.6M442.7 217.3h1.6M443.1 265.6h1.6M450.6 256.8h1.6M418.1 279.0h1.6M487.7 295.9h1.6M438.1 278.7h1.6M444.1 283.1h1.6M412.1 296.8h1.6M457.3 258.4h1.6M459.7 201.3h1.6M424.2 210.5h1.6M431.0 290.5h1.6M407.8 266.1h1.6M463.6 257.6h1.6M493.0 279.3h1.6M455.4 255.1h1.6M434.0 212.7h1.6M446.6 214.3h1.6M465.2 295.4h1.6M420.7 263.2h1.6M444.9 246.1h1.6M490.0 257.9h1.6M445.6 304.4h1.6M430.0 236.5h1.6M449.6 308.9h1.6M487.5 293.9h1.6M411.4 256.9h1.6M430.9 246.3h1.6M469.3 239.8h1.6M459.1 206.8h1.6M449.3 255.5h1.6M503.0 286.0h1.6M499.7 269.9h1.6M486.9 298.0h1.6M470.2 228.8h1.6M460.2 302.5h1.6M468.1 227.1h1.6M458.0 247.6h1.6M436.5 271.5h1.6M418.0 265.6h1.6M501.6 256.5h1.6M432.8 251.2h1.6M459.4 215.6h1.6M418.4 213.7h1.6M435.4 244.5h1.6M434.8 226.3h1.6M414.8 260.2h1.6M490.0 267.3h1.6M463.0 271.8h1.6M426.1 278.6h1.6M452.1 260.4h1.6M467.3 251.5h1.6M437.1 226.1h1.6M428.2 256.4h1.6M444.3 264.6h1.6M461.7 254.0h1.6M434.5 309.6h1.6M435.6 285.5h1.6M421.9 206.5h1.6M412.2 242.4h1.6M450.0 281.4h1.6M416.9 224.2h1.6M501.9 281.7h1.6M421.5 236.7h1.6M441.2 274.6h1.6M467.6 294.2h1.6M488.1 257.0h1.6M479.9 282.2h1.6M482.0 252.2h1.6M484.5 278.4h1.6M482.6 264.6h1.6M455.8 306.8h1.6M463.2 245.8h1.6M484.4 296.7h1.6M466.7 241.5h1.6M451.2 250.3h1.6M445.1 261.2h1.6M444.5 235.1h1.6M484.7 294.2h1.6M456.0 248.7h1.6M424.4 233.1h1.6M420.5 263.4h1.6M464.2 208.8h1.6M490.3 292.9h1.6M448.6 301.0h1.6M462.5 254.7h1.6M498.0 285.6h1.6M459.8 310.8h1.6M457.7 256.9h1.6M474.5 242.6h1.6M441.8 265.6h1.6M441.1 305.2h1.6M473.6 257.8h1.6M415.9 240.9h1.6M446.1 261.9h1.6M463.4 297.5h1.6M450.0 269.0h1.6M459.0 290.4h1.6M423.1 234.6h1.6M503.8 291.5h1.6M457.3 211.4h1.6M495.5 276.3h1.6M421.6 231.5h1.6M457.2 255.5h1.6M424.8 219.4h1.6M469.0 266.6h1.6M441.3 310.3h1.6M447.1 287.2h1.6M436.7 276.4h1.6M490.2 264.7h1.6M455.8 261.0h1.6M432.6 271.4h1.6M459.1 310.7h1.6M463.4 245.0h1.6M418.2 216.6h1.6M416.0 218.1h1.6M458.2 291.2h1.6M467.3 289.3h1.6M422.9 228.9h1.6M415.9 300.2h1.6M464.2 238.1h1.6M451.0 242.2h1.6M411.5 298.7h1.6M464.3 306.5h1.6M450.0 268.5h1.6M430.9 203.9h1.6M437.5 299.7h1.6M466.3 306.5h1.6M455.6 305.4h1.6M430.3 242.7h1.6M436.9 297.0h1.6M454.4 287.8h1.6M430.3 218.4h1.6M441.8 219.9h1.6M462.2 211.9h1.6M459.4 242.2h1.6M446.3 206.3h1.6M418.3 291.5h1.6M441.1 226.4h1.6M425.1 230.8h1.6M429.7 202.9h1.6M472.4 237.2h1.6M421.6 278.1h1.6M415.3 229.2h1.6M450.3 292.7h1.6M441.3 279.9h1.6M443.7 306.3h1.6M426.8 305.5h1.6M456.5 224.5h1.6M451.3 213.7h1.6M496.0 264.8h1.6M442.8 226.6h1.6M466.8 222.8h1.6M457.3 259.8h1.6M433.0 285.4h1.6M444.5 272.6h1.6M462.8 233.8h1.6M445.0 208.6h1.6M423.7 294.3h1.6M438.1 273.2h1.6M416.9 261.9h1.6M442.1 255.0h1.6M435.7 206.4h1.6M437.1 224.4h1.6M418.6 279.3h1.6M434.2 244.2h1.6M496.9 285.8h1.6M494.3 295.5h1.6M419.2 230.0h1.6M409.0 275.1h1.6M472.4 238.4h1.6M447.3 272.8h1.6M468.9 219.3h1.6M417.5 301.2h1.6M479.4 278.8h1.6M422.2 221.2h1.6M436.3 241.6h1.6M489.9 262.9h1.6M449.5 275.6h1.6M489.4 286.0h1.6M434.6 203.8h1.6M491.4 267.0h1.6M417.1 287.6h1.6M427.0 301.4h1.6M475.5 243.1h1.6M480.8 291.8h1.6M434.1 209.1h1.6M499.0 276.5h1.6M479.9 292.0h1.6M468.8 249.7h1.6M411.4 277.2h1.6M448.8 256.3h1.6M476.3 289.2h1.6M432.1 260.2h1.6M502.9 270.4h1.6M460.4 227.0h1.6M411.9 239.1h1.6M447.2 221.6h1.6M437.1 214.3h1.6M476.7 274.1h1.6M429.8 226.1h1.6M457.5 248.8h1.6M435.9 298.1h1.6M420.2 262.1h1.6M439.4 290.3h1.6M460.8 284.2h1.6M422.9 273.7h1.6M465.9 250.7h1.6M482.6 292.1h1.6M417.4 231.4h1.6M442.0 222.1h1.6M412.0 230.5h1.6M425.7 277.6h1.6M450.8 211.7h1.6M438.4 251.5h1.6M442.3 217.8h1.6M414.4 279.3h1.6M504.0 262.1h1.6M416.9 253.8h1.6M449.4 220.3h1.6M460.3 199.9h1.6M498.0 271.2h1.6M468.8 303.7h1.6M471.3 227.2h1.6M430.6 214.5h1.6M408.8 285.7h1.6M424.6 270.5h1.6M422.8 286.9h1.6M489.0 282.1h1.6M438.7 219.7h1.6M442.9 260.7h1.6M442.9 292.1h1.6M429.9 203.6h1.6M462.7 269.4h1.6M488.0 278.0h1.6M455.4 254.9h1.6M421.7 232.6h1.6M464.1 208.0h1.6M450.3 307.6h1.6M450.0 220.4h1.6M490.1 294.8h1.6M484.7 246.6h1.6M434.3 273.1h1.6M457.5 246.2h1.6M439.9 248.1h1.6M472.6 291.5h1.6M435.6 248.6h1.6M462.3 238.0h1.6M425.5 208.5h1.6M438.4 250.6h1.6M502.2 268.4h1.6M473.6 267.2h1.6M435.7 263.0h1.6M470.7 232.5h1.6M440.3 298.1h1.6M473.9 249.1h1.6M414.5 273.0h1.6M443.2 264.0h1.6M447.6 258.4h1.6M462.5 243.4h1.6M417.4 219.2h1.6M495.0 260.4h1.6M417.2 295.6h1.6M431.3 209.6h1.6M459.1 227.2h1.6M454.9 261.1h1.6M428.7 263.1h1.6M417.3 256.5h1.6M464.8 208.0h1.6M446.8 207.2h1.6M450.0 295.7h1.6M461.1 279.0h1.6M416.2 292.0h1.6M445.2 218.2h1.6M502.0 262.1h1.6M429.7 240.7h1.6M407.5 265.6h1.6M427.3 232.6h1.6M476.7 246.7h1.6M494.9 268.6h1.6M493.2 262.1h1.6M422.8 282.5h1.6M440.1 284.5h1.6M474.1 291.5h1.6M418.3 240.8h1.6M466.4 210.2h1.6M460.9 288.9h1.6M417.3 302.6h1.6M425.3 249.0h1.6M489.8 264.1h1.6M417.4 201.3h1.6M417.0 288.7h1.6M424.5 261.1h1.6M435.0 276.0h1.6M444.1 215.2h1.6M493.5 259.3h1.6M475.0 289.5h1.6M440.2 215.9h1.6M456.2 296.8h1.6M424.2 290.6h1.6M474.0 243.0h1.6M453.6 216.7h1.6M493.3 267.4h1.6M413.6 235.9h1.6M427.6 299.1h1.6M464.9 203.9h1.6M423.0 239.4h1.6M452.8 263.6h1.6M444.8 238.6h1.6M439.4 201.3h1.6M451.9 309.5h1.6M473.1 229.5h1.6M433.3 255.0h1.6M432.2 262.7h1.6M458.8 306.2h1.6M462.1 285.3h1.6M493.2 285.7h1.6M469.3 270.1h1.6M442.3 230.5h1.6M485.5 296.8h1.6M499.9 275.3h1.6M436.4 284.5h1.6M480.0 256.0h1.6M469.5 238.2h1.6M461.1 244.5h1.6M412.0 236.8h1.6M438.3 309.7h1.6M454.1 240.1h1.6M430.3 225.3h1.6M440.9 214.2h1.6M406.7 296.5h1.6M451.3 248.9h1.6M462.9 232.9h1.6M422.9 206.4h1.6M436.1 233.6h1.6M478.7 260.7h1.6M498.1 264.3h1.6M414.0 219.0h1.6M464.0 309.6h1.6M441.7 285.7h1.6M448.8 296.3h1.6M412.8 253.3h1.6M431.8 201.6h1.6M422.5 229.0h1.6M446.0 221.4h1.6M466.3 295.8h1.6M466.1 207.9h1.6M486.9 297.1h1.6M440.1 214.3h1.6M424.8 259.1h1.6M493.5 270.7h1.6M438.7 282.9h1.6M470.9 244.4h1.6M473.9 236.8h1.6M411.7 245.4h1.6M410.5 269.1h1.6M439.5 254.4h1.6M465.8 227.8h1.6M452.3 200.5h1.6M498.5 262.2h1.6M467.4 280.1h1.6M438.9 209.5h1.6M421.6 215.0h1.6M459.9 264.9h1.6M461.5 272.6h1.6M466.2 236.1h1.6M477.1 284.5h1.6M451.3 230.2h1.6M458.3 304.4h1.6M419.2 200.0h1.6M453.6 272.4h1.6M412.0 255.2h1.6M461.5 219.4h1.6M420.9 218.9h1.6M422.2 202.3h1.6M469.6 237.6h1.6M486.1 250.5h1.6M505.2 243.5h1.6M469.2 216.9h1.6M471.1 229.8h1.6M469.6 213.4h1.6M496.0 244.6h1.6M501.5 218.0h1.6M495.6 257.4h1.6M472.1 222.5h1.6M487.9 231.2h1.6M487.0 261.7h1.6M501.2 211.9h1.6M472.9 200.7h1.6M462.9 211.0h1.6M492.1 205.4h1.6M493.8 261.6h1.6M507.0 201.3h1.6M492.5 201.7h1.6M483.2 215.4h1.6M479.5 206.4h1.6M483.0 207.0h1.6M475.7 234.2h1.6M503.9 223.8h1.6M502.2 250.9h1.6M471.6 211.6h1.6M471.2 203.9h1.6M478.4 238.5h1.6M476.1 199.8h1.6M492.4 245.4h1.6M485.2 238.0h1.6M501.7 250.0h1.6M478.0 221.6h1.6M477.4 226.4h1.6M478.5 209.2h1.6M507.9 199.4h1.6M476.8 216.1h1.6M467.9 207.2h1.6M500.2 254.7h1.6M503.4 202.5h1.6M492.7 222.0h1.6M490.3 238.0h1.6M500.7 235.2h1.6M495.2 225.9h1.6M493.6 226.9h1.6M484.3 242.5h1.6M491.9 221.9h1.6M489.4 237.6h1.6M481.7 250.2h1.6M484.1 232.8h1.6M469.1 209.1h1.6M504.4 236.5h1.6" stroke="#808080" stroke-width="1.6" opacity="1" fill="none"/><g filter="url(#mg)"><polygon points="413,309 411,275 413,250 416,230 420,212 424,200 452,200 456,215 458,235 462,255 470,268 466,285 458,300 452,309" fill="url(#vg6)" filter="url(#bl2)"/></g><path d="M452.0 261.5h1.8M423.5 292.4h1.8M441.1 287.6h1.8M432.4 293.4h1.8M438.2 282.1h1.8M464.9 282.2h1.8M429.4 288.0h1.8M433.3 287.2h1.8M403.4 291.7h1.8M445.3 274.8h1.8M437.2 294.6h1.8M449.0 295.9h1.8M415.5 289.6h1.8M433.3 292.9h1.8M443.1 262.9h1.8M445.6 272.4h1.8M440.8 273.3h1.8M440.5 295.7h1.8M434.7 288.9h1.8M445.5 285.6h1.8M438.1 299.1h1.8M447.5 281.5h1.8M465.4 269.6h1.8M446.1 282.1h1.8M439.0 292.0h1.8M439.9 291.2h1.8M415.2 280.1h1.8M441.1 277.6h1.8M421.1 278.8h1.8M452.2 288.8h1.8M451.1 275.2h1.8M433.7 278.2h1.8M448.2 296.9h1.8M428.9 301.8h1.8M447.1 282.6h1.8M416.1 304.0h1.8M433.6 282.6h1.8M441.5 288.9h1.8M451.3 274.5h1.8M452.2 295.0h1.8M452.5 281.1h1.8M429.5 297.2h1.8M437.6 287.6h1.8M452.0 280.5h1.8M408.6 291.1h1.8M416.2 299.1h1.8M438.4 281.3h1.8M437.6 293.5h1.8M439.7 297.0h1.8M437.4 295.2h1.8M456.6 294.8h1.8M430.0 295.9h1.8M412.0 284.5h1.8M415.5 301.4h1.8M421.7 290.7h1.8M433.7 287.4h1.8M429.6 290.6h1.8M456.9 281.8h1.8M444.2 293.1h1.8M431.1 277.9h1.8M431.8 297.0h1.8M415.7 287.5h1.8M449.3 290.0h1.8M437.8 293.2h1.8M435.5 277.4h1.8M416.5 286.9h1.8M445.5 279.8h1.8M423.9 283.8h1.8M418.0 290.9h1.8M423.1 293.5h1.8M409.3 296.9h1.8M424.5 274.0h1.8M443.8 282.6h1.8M408.3 287.2h1.8M438.4 282.6h1.8M446.6 290.4h1.8M444.4 287.5h1.8M452.8 288.0h1.8M436.9 269.5h1.8M449.1 294.3h1.8M431.6 284.3h1.8M454.8 267.4h1.8M446.5 304.3h1.8M426.7 295.2h1.8M457.6 280.2h1.8M444.4 292.2h1.8M425.3 289.1h1.8M441.1 292.5h1.8M435.2 285.6h1.8M423.5 287.4h1.8M446.5 285.0h1.8M424.4 283.1h1.8M469.3 287.5h1.8M438.0 265.0h1.8M444.2 288.8h1.8M456.4 285.1h1.8M436.3 291.2h1.8M415.6 301.0h1.8M438.3 280.6h1.8M455.1 296.9h1.8M418.4 286.2h1.8M439.8 287.5h1.8M429.4 280.7h1.8M462.7 288.4h1.8M419.4 280.3h1.8M457.8 289.4h1.8M458.8 287.6h1.8M426.4 291.7h1.8M409.4 287.9h1.8M436.4 291.2h1.8M427.3 288.3h1.8M442.1 288.5h1.8M443.8 286.6h1.8M433.9 294.1h1.8M434.9 280.5h1.8M428.7 288.9h1.8M435.1 288.6h1.8M436.4 288.4h1.8M431.8 277.7h1.8M443.1 293.8h1.8M440.6 284.2h1.8M439.2 278.2h1.8M414.1 293.3h1.8M426.7 295.6h1.8M418.0 270.1h1.8M427.2 302.4h1.8M428.7 277.6h1.8M428.2 293.4h1.8M442.1 286.8h1.8M454.7 287.9h1.8M437.0 291.7h1.8M457.2 289.4h1.8M445.6 275.5h1.8M435.8 293.1h1.8M434.8 296.2h1.8M444.8 292.2h1.8M438.8 307.3h1.8M449.9 281.5h1.8M442.4 306.8h1.8M433.8 294.8h1.8M447.4 284.0h1.8M422.9 292.1h1.8M442.5 294.6h1.8M445.1 284.8h1.8M447.0 288.5h1.8M438.5 286.8h1.8M434.6 293.1h1.8M422.5 285.4h1.8M433.0 275.7h1.8M426.8 272.8h1.8M429.3 293.5h1.8M442.5 284.8h1.8M430.4 276.8h1.8M458.3 285.3h1.8M446.8 276.8h1.8M430.1 273.5h1.8M447.0 291.8h1.8M413.9 292.5h1.8M439.7 271.4h1.8M412.6 284.4h1.8M425.8 278.1h1.8M436.9 288.8h1.8M444.8 290.5h1.8M455.8 291.3h1.8M419.7 287.2h1.8M421.5 282.0h1.8M435.1 287.3h1.8M438.4 273.2h1.8M421.6 290.7h1.8M433.0 285.2h1.8M433.7 281.3h1.8M444.9 287.6h1.8M433.6 282.1h1.8M428.3 266.5h1.8M424.7 290.3h1.8M419.0 293.2h1.8M434.9 275.9h1.8M432.4 285.4h1.8M442.6 290.3h1.8M433.8 280.5h1.8M434.2 286.9h1.8M445.1 287.0h1.8M424.8 278.8h1.8M430.1 282.4h1.8M422.9 289.6h1.8M430.5 289.3h1.8M441.2 282.2h1.8M462.3 277.3h1.8M449.0 284.5h1.8M444.0 265.2h1.8M427.8 291.2h1.8M447.8 303.2h1.8M442.4 295.9h1.8M446.8 291.9h1.8M441.6 284.2h1.8M439.7 277.1h1.8M447.6 275.5h1.8M443.3 302.6h1.8M433.5 287.8h1.8M449.5 283.6h1.8M427.2 291.5h1.8M444.2 290.7h1.8M430.7 302.9h1.8M455.4 282.0h1.8M438.2 282.9h1.8M450.9 277.2h1.8M442.8 281.2h1.8M429.4 294.7h1.8M451.4 282.8h1.8M429.8 295.4h1.8M436.1 289.6h1.8M456.0 291.0h1.8M434.7 306.3h1.8M437.7 293.1h1.8M428.4 288.7h1.8M419.4 306.2h1.8M449.3 273.4h1.8M415.2 279.1h1.8M448.7 279.8h1.8M434.7 284.8h1.8M432.3 279.0h1.8M433.3 275.8h1.8M435.8 289.6h1.8M440.9 283.8h1.8M425.9 291.0h1.8M433.6 300.6h1.8M444.7 283.7h1.8M429.1 283.0h1.8M424.4 287.2h1.8M440.5 290.1h1.8M446.9 301.5h1.8M427.9 289.3h1.8M464.5 263.9h1.8M430.3 289.9h1.8M438.6 289.7h1.8M434.0 290.6h1.8M438.2 292.8h1.8M412.2 286.0h1.8M433.8 279.0h1.8M425.2 295.1h1.8M429.8 293.9h1.8M445.3 287.1h1.8M441.7 284.6h1.8M419.6 291.1h1.8M440.2 281.5h1.8M436.4 293.1h1.8M427.1 294.7h1.8M456.4 276.9h1.8M437.4 285.4h1.8M454.5 284.7h1.8M445.0 278.9h1.8M435.8 287.0h1.8M418.4 303.6h1.8M442.8 270.7h1.8M444.4 283.7h1.8M442.0 288.4h1.8M418.2 290.0h1.8M452.1 277.9h1.8M421.3 279.7h1.8M422.5 293.4h1.8M456.5 285.1h1.8M443.5 303.5h1.8M428.6 283.4h1.8M443.3 289.6h1.8M421.8 281.1h1.8M439.9 288.0h1.8M420.4 289.5h1.8M430.7 292.2h1.8M434.5 286.7h1.8M434.1 296.2h1.8M451.4 279.8h1.8M444.2 278.5h1.8M438.4 292.6h1.8M452.8 279.3h1.8M435.5 288.7h1.8M418.7 291.8h1.8M428.9 292.0h1.8M418.8 275.2h1.8M437.0 288.9h1.8M431.5 295.6h1.8M431.6 283.2h1.8M438.3 273.4h1.8M428.1 288.9h1.8M445.5 283.1h1.8M438.2 281.0h1.8M442.9 298.9h1.8M432.9 307.4h1.8M428.6 289.1h1.8M440.1 294.4h1.8M417.3 274.6h1.8M444.7 291.3h1.8M448.7 305.4h1.8M438.9 288.3h1.8M447.5 287.0h1.8M452.7 272.3h1.8M424.5 261.5h1.8M444.6 281.6h1.8M451.2 300.8h1.8M435.4 285.1h1.8M428.5 282.1h1.8M430.0 293.9h1.8M436.6 287.4h1.8M435.9 294.6h1.8M441.4 284.4h1.8M443.4 283.8h1.8M425.6 301.8h1.8M439.4 278.2h1.8M449.2 286.3h1.8M421.2 304.3h1.8M441.7 292.9h1.8M438.0 285.2h1.8M420.1 299.3h1.8M435.8 284.7h1.8M440.2 286.5h1.8M443.1 282.0h1.8M431.1 270.6h1.8M432.5 293.5h1.8M450.7 280.0h1.8M437.9 299.6h1.8M433.7 293.7h1.8M455.5 282.1h1.8M448.8 277.7h1.8M438.2 285.8h1.8M439.7 295.4h1.8M462.3 274.4h1.8M430.4 292.6h1.8M424.8 294.1h1.8M442.1 283.1h1.8M438.9 273.4h1.8M441.6 272.7h1.8M426.8 284.9h1.8M433.1 294.9h1.8M436.1 283.7h1.8M445.6 297.5h1.8M436.8 289.8h1.8M450.9 285.2h1.8M426.3 310.2h1.8M457.5 264.8h1.8M436.4 290.3h1.8M448.6 289.2h1.8M430.7 279.7h1.8M439.3 294.7h1.8M421.2 282.4h1.8M431.7 272.1h1.8M432.1 284.4h1.8M439.8 280.2h1.8M425.0 286.7h1.8M434.0 282.0h1.8M437.7 292.8h1.8M453.3 296.5h1.8M426.0 286.2h1.8M411.2 309.4h1.8M427.5 289.0h1.8M439.2 274.9h1.8M441.3 285.4h1.8M415.4 294.9h1.8M446.0 268.9h1.8M445.8 286.1h1.8M442.4 288.9h1.8M450.7 281.2h1.8M445.3 281.1h1.8M442.8 278.4h1.8M438.3 300.7h1.8M440.8 284.4h1.8M421.1 284.4h1.8M440.2 293.7h1.8M442.0 289.7h1.8M438.3 297.6h1.8M430.3 284.0h1.8M446.4 284.7h1.8M431.6 283.4h1.8M434.3 292.6h1.8M437.6 276.6h1.8M441.3 287.1h1.8M426.0 296.1h1.8M432.1 285.3h1.8M448.0 294.7h1.8M428.9 292.5h1.8M430.6 307.6h1.8M432.8 297.8h1.8M430.2 295.3h1.8M456.5 260.5h1.8M432.0 292.2h1.8M433.5 282.1h1.8M461.1 280.9h1.8M418.7 298.7h1.8M418.4 301.2h1.8M429.6 289.9h1.8M450.9 284.0h1.8M416.4 278.2h1.8M451.2 289.0h1.8M428.3 296.2h1.8M443.1 290.5h1.8M409.2 291.7h1.8M448.0 289.9h1.8M441.1 265.3h1.8M439.0 290.3h1.8M463.6 271.7h1.8M432.3 288.3h1.8M445.4 280.8h1.8M447.7 277.3h1.8M438.0 282.1h1.8M436.4 281.2h1.8M419.7 300.4h1.8M438.4 281.7h1.8M440.4 294.0h1.8M424.4 289.2h1.8M443.3 289.4h1.8M427.8 271.8h1.8M451.1 285.7h1.8M435.6 284.8h1.8M438.2 282.9h1.8M422.6 284.5h1.8M427.8 284.1h1.8M423.9 295.5h1.8M422.2 296.2h1.8M425.0 292.9h1.8M452.3 284.3h1.8M427.6 289.6h1.8M434.1 273.1h1.8M429.3 290.1h1.8M430.7 289.1h1.8M446.1 290.6h1.8M447.7 288.7h1.8M432.6 287.8h1.8M432.2 285.4h1.8M430.3 274.2h1.8M432.1 287.8h1.8M424.7 289.8h1.8M441.6 284.1h1.8M454.7 260.4h1.8M429.8 273.5h1.8M452.9 304.5h1.8M407.3 295.8h1.8M441.4 283.1h1.8M437.8 268.0h1.8M446.6 287.2h1.8M435.0 282.4h1.8M442.4 281.3h1.8M437.5 282.4h1.8M409.9 293.7h1.8M439.9 292.2h1.8M425.8 289.5h1.8M443.5 286.2h1.8M454.5 298.5h1.8M421.5 275.0h1.8M449.1 296.2h1.8M448.4 290.4h1.8M427.4 283.4h1.8M444.4 277.2h1.8M416.9 276.0h1.8M503.2 277.7h1.8M436.8 270.6h1.8M451.7 263.4h1.8M472.9 263.1h1.8M441.5 297.7h1.8M443.7 281.0h1.8M450.1 270.4h1.8M453.5 263.4h1.8M409.8 262.0h1.8M427.2 274.7h1.8M451.9 274.8h1.8M461.7 271.2h1.8M435.2 271.7h1.8M416.5 288.1h1.8M462.8 276.6h1.8M449.1 272.9h1.8M467.4 267.1h1.8M467.2 275.3h1.8M462.7 287.8h1.8M440.7 274.1h1.8M434.4 270.8h1.8M487.0 282.9h1.8M455.5 280.5h1.8M475.6 274.6h1.8M464.7 250.0h1.8M444.1 284.2h1.8M476.0 264.3h1.8M436.0 276.4h1.8M436.5 268.9h1.8M473.1 255.2h1.8M464.2 299.3h1.8M473.2 268.9h1.8M444.3 283.5h1.8M481.9 269.0h1.8M473.1 265.6h1.8M459.3 267.7h1.8M466.1 286.1h1.8M428.3 284.2h1.8M452.8 265.4h1.8M451.3 285.6h1.8M488.1 266.2h1.8M448.8 253.2h1.8M483.9 260.2h1.8M445.3 261.1h1.8M445.1 261.5h1.8M455.7 279.0h1.8M454.0 277.1h1.8M446.0 297.3h1.8M431.4 257.5h1.8M444.7 266.4h1.8M433.6 277.5h1.8M450.3 257.9h1.8M457.6 291.9h1.8M462.3 267.0h1.8M453.4 271.6h1.8M455.2 283.0h1.8M437.3 246.4h1.8M446.8 263.7h1.8M459.3 261.9h1.8M466.4 298.5h1.8M428.7 268.7h1.8M415.8 256.5h1.8M423.4 292.6h1.8M431.3 256.8h1.8M431.2 292.6h1.8M437.3 275.6h1.8M464.8 287.5h1.8M489.3 271.4h1.8M455.4 275.1h1.8M489.2 277.1h1.8M449.4 281.8h1.8M457.0 272.4h1.8M436.6 262.2h1.8M434.8 259.9h1.8M474.9 271.0h1.8M440.0 299.6h1.8M456.1 244.7h1.8M486.5 269.5h1.8M478.9 243.8h1.8M463.0 274.9h1.8M456.2 274.5h1.8M461.0 248.4h1.8M424.1 267.0h1.8M439.6 271.1h1.8M459.5 274.3h1.8M448.8 265.8h1.8M450.0 288.6h1.8M465.0 269.4h1.8M455.3 294.8h1.8M445.9 286.2h1.8M469.4 262.1h1.8M459.3 254.6h1.8M469.6 268.6h1.8M429.8 294.0h1.8M444.5 295.9h1.8M440.0 277.2h1.8M454.8 267.9h1.8M453.2 265.5h1.8M463.0 269.0h1.8M440.3 240.0h1.8M471.1 265.5h1.8M423.4 288.7h1.8M465.5 283.1h1.8M442.8 300.5h1.8M462.6 303.4h1.8M453.3 283.1h1.8M439.9 263.6h1.8M474.9 276.3h1.8M481.8 272.4h1.8M433.5 258.8h1.8M437.7 271.0h1.8M441.9 287.1h1.8M455.9 268.3h1.8M454.0 271.0h1.8M459.6 281.2h1.8M463.9 258.6h1.8M435.3 302.3h1.8M459.9 286.2h1.8M423.4 282.6h1.8M444.5 256.8h1.8M447.6 286.5h1.8M478.4 284.6h1.8M430.2 264.1h1.8M465.7 281.1h1.8M448.0 257.2h1.8M469.1 277.4h1.8M458.4 264.1h1.8M461.3 281.0h1.8M432.8 256.5h1.8M460.0 277.2h1.8M457.1 284.4h1.8M442.0 277.5h1.8M450.2 283.1h1.8M476.7 258.9h1.8M493.9 276.4h1.8M468.1 274.9h1.8M479.9 258.4h1.8M444.3 262.3h1.8M467.1 286.2h1.8M463.0 274.9h1.8M449.7 277.5h1.8M434.5 297.2h1.8M439.2 264.1h1.8M435.2 270.0h1.8M471.8 280.0h1.8M434.9 295.2h1.8M463.3 260.4h1.8M423.7 276.5h1.8M443.5 282.9h1.8M435.0 252.8h1.8M447.4 254.1h1.8M460.1 252.9h1.8M436.0 269.2h1.8M450.3 293.4h1.8M469.2 274.6h1.8M448.7 253.3h1.8M440.5 271.5h1.8M438.9 287.4h1.8M436.0 271.3h1.8M423.7 257.7h1.8M469.0 285.2h1.8M449.5 261.2h1.8M408.8 296.6h1.8M473.5 268.2h1.8M475.2 284.4h1.8M468.0 260.2h1.8M473.4 275.1h1.8M424.7 280.9h1.8M428.2 283.5h1.8M455.6 257.0h1.8M425.6 304.9h1.8M466.2 288.5h1.8M436.2 296.6h1.8M496.9 281.9h1.8M450.1 278.8h1.8M455.0 286.9h1.8M469.4 267.1h1.8M433.9 293.1h1.8M447.8 285.0h1.8M465.2 291.1h1.8M468.1 260.0h1.8M467.4 292.1h1.8M445.6 283.2h1.8M478.3 279.8h1.8M453.2 254.5h1.8M432.8 286.5h1.8M472.3 301.1h1.8M444.2 294.0h1.8M455.4 248.4h1.8M439.6 282.2h1.8M443.1 275.9h1.8M455.2 260.9h1.8M456.1 263.0h1.8M446.1 284.5h1.8M444.2 281.7h1.8M478.2 262.2h1.8M453.7 283.8h1.8M452.0 289.5h1.8M434.5 291.0h1.8M439.3 268.5h1.8M476.2 250.5h1.8M484.3 268.4h1.8M470.3 251.4h1.8M479.6 282.0h1.8M449.4 273.4h1.8M493.0 257.4h1.8M441.6 269.8h1.8M461.1 274.5h1.8M464.4 292.9h1.8M449.3 282.1h1.8M470.3 251.1h1.8M479.0 287.7h1.8M423.9 271.4h1.8M424.9 260.1h1.8M449.2 248.7h1.8M468.1 287.3h1.8M423.9 282.6h1.8M425.0 297.8h1.8M438.5 276.5h1.8M455.9 280.0h1.8M446.4 276.8h1.8M443.7 279.5h1.8M433.2 283.7h1.8M417.8 282.9h1.8M483.7 260.4h1.8M432.9 286.6h1.8M427.1 261.9h1.8M444.0 288.3h1.8M457.7 269.9h1.8M431.0 268.3h1.8M475.4 266.6h1.8M424.9 256.4h1.8M432.8 281.8h1.8M454.6 270.5h1.8M439.9 259.9h1.8M444.1 301.9h1.8M444.3 289.7h1.8M422.9 283.7h1.8M462.0 284.2h1.8M437.0 289.6h1.8M454.2 262.4h1.8M454.9 259.8h1.8M438.9 279.8h1.8M407.1 293.4h1.8M427.6 264.4h1.8M449.3 286.2h1.8M452.4 292.0h1.8M425.9 267.4h1.8M479.5 266.9h1.8M462.9 257.1h1.8M466.5 270.9h1.8M462.7 269.4h1.8M468.1 257.2h1.8M428.2 263.9h1.8M466.9 256.5h1.8M429.8 270.9h1.8M437.8 262.4h1.8M443.8 268.8h1.8M474.0 256.2h1.8M484.0 297.3h1.8M473.0 248.2h1.8M488.5 285.8h1.8M464.3 238.2h1.8M440.1 253.0h1.8M441.6 253.8h1.8M471.7 299.0h1.8M417.1 266.1h1.8M487.4 266.8h1.8M497.4 255.2h1.8M413.3 249.8h1.8M467.1 299.4h1.8M503.2 257.8h1.8M450.4 224.2h1.8M471.9 234.1h1.8M412.4 276.5h1.8M423.3 302.0h1.8M420.2 293.3h1.8M478.9 236.8h1.8M480.2 231.9h1.8M416.7 284.7h1.8M478.4 292.0h1.8M470.5 278.8h1.8M454.8 298.9h1.8M435.6 301.8h1.8M413.4 273.6h1.8M440.9 280.6h1.8M427.4 292.5h1.8M446.2 266.7h1.8M452.8 275.9h1.8M425.5 286.8h1.8M445.8 273.0h1.8M470.6 252.6h1.8M447.9 285.8h1.8M499.9 285.6h1.8M464.7 241.3h1.8M417.6 302.7h1.8M477.4 289.5h1.8M442.9 269.5h1.8M467.9 242.8h1.8M451.9 294.9h1.8M447.0 276.6h1.8M468.0 295.7h1.8M487.1 240.5h1.8M451.3 267.8h1.8M487.9 294.9h1.8M415.9 290.0h1.8M487.5 293.0h1.8M465.2 239.6h1.8M491.2 287.6h1.8M475.7 297.2h1.8M463.5 286.8h1.8M430.6 282.5h1.8M468.4 276.0h1.8M455.3 233.6h1.8M435.7 282.6h1.8M485.6 256.4h1.8M420.2 287.6h1.8M483.8 236.0h1.8M465.9 295.7h1.8M494.3 262.0h1.8M456.3 268.0h1.8M428.8 278.1h1.8M445.7 265.8h1.8M449.4 261.5h1.8M421.9 271.9h1.8M467.5 246.0h1.8M415.1 304.1h1.8M492.5 258.8h1.8M464.7 238.5h1.8M484.5 253.3h1.8M500.0 284.1h1.8M463.8 293.4h1.8M454.6 300.2h1.8M467.6 250.8h1.8M423.2 301.3h1.8M435.9 265.8h1.8M471.6 301.1h1.8M474.3 250.4h1.8M453.7 229.4h1.8M435.8 246.7h1.8M496.0 296.4h1.8M485.1 278.9h1.8M482.2 299.5h1.8M475.0 241.9h1.8M467.0 283.2h1.8M421.8 244.2h1.8M456.8 230.2h1.8M478.7 232.6h1.8M415.3 298.5h1.8M432.5 299.1h1.8M492.6 295.0h1.8M425.0 255.3h1.8M421.0 298.6h1.8M490.3 271.6h1.8M454.1 245.6h1.8M488.5 258.0h1.8M470.4 227.8h1.8M478.4 264.8h1.8M425.5 293.4h1.8M436.8 252.1h1.8M426.5 239.4h1.8M490.1 245.1h1.8M427.6 259.2h1.8M441.6 296.3h1.8M422.6 303.1h1.8M417.3 295.6h1.8M474.2 234.0h1.8M456.4 240.8h1.8M431.4 213.1h1.8M436.9 244.6h1.8M469.9 242.0h1.8M423.1 216.6h1.8M464.6 207.3h1.8M455.8 216.7h1.8M468.9 205.6h1.8M460.0 218.6h1.8M425.3 205.1h1.8M461.3 226.1h1.8M427.7 222.4h1.8M465.4 213.7h1.8M447.7 210.5h1.8M427.4 235.8h1.8M455.0 212.9h1.8M422.1 208.5h1.8M449.6 224.8h1.8M432.2 213.2h1.8M449.8 233.3h1.8M460.2 228.3h1.8M428.5 207.6h1.8M456.1 221.3h1.8M455.5 207.2h1.8M460.2 218.4h1.8M461.8 239.6h1.8" stroke="#ee0000" stroke-width="1.8" opacity="1" fill="none"/></g><rect x="455.4" y="198" width="54" height="20.7" fill="#fff" stroke="#000" stroke-width="0.9"/><text x="462.20" y="206.20" font-size="7.2" text-anchor="start" fill="#d42020" font-weight="normal" >PCs</text><text x="462.20" y="214.60" font-size="7.2" text-anchor="start" fill="#7a7a7a" font-weight="normal" >Singlets</text><path d="M394.60 312.20v3.4M398.98 312.20v1.9M403.36 312.20v1.9M407.74 312.20v1.9M412.12 312.20v1.9M416.50 312.20v3.4M420.88 312.20v1.9M425.25 312.20v1.9M429.63 312.20v1.9M434.01 312.20v1.9M438.39 312.20v3.4M442.77 312.20v1.9M447.15 312.20v1.9M451.53 312.20v1.9M455.91 312.20v1.9M460.29 312.20v3.4M464.67 312.20v1.9M469.05 312.20v1.9M473.43 312.20v1.9M477.81 312.20v1.9M482.19 312.20v3.4M486.56 312.20v1.9M490.94 312.20v1.9M495.32 312.20v1.9M499.70 312.20v1.9M504.08 312.20v3.4M508.46 312.20v1.9" stroke="#000" stroke-width="0.9" fill="none"/><text x="394.60" y="326.00" font-size="6.8" letter-spacing="0.35" text-anchor="middle" fill="#111" stroke="#111" stroke-width="0.12">0</text><text x="416.50" y="326.00" font-size="6.8" letter-spacing="0.35" text-anchor="middle" fill="#111" stroke="#111" stroke-width="0.12">50K</text><text x="438.39" y="326.00" font-size="6.8" letter-spacing="0.35" text-anchor="middle" fill="#111" stroke="#111" stroke-width="0.12">100K</text><text x="460.29" y="326.00" font-size="6.8" letter-spacing="0.35" text-anchor="middle" fill="#111" stroke="#111" stroke-width="0.12">150K</text><text x="482.19" y="326.00" font-size="6.8" letter-spacing="0.35" text-anchor="middle" fill="#111" stroke="#111" stroke-width="0.12">200K</text><text x="504.08" y="326.00" font-size="6.8" letter-spacing="0.35" text-anchor="middle" fill="#111" stroke="#111" stroke-width="0.12">250K</text><path d="M394.60 312.20h-3.4M394.60 307.84h-1.9M394.60 303.49h-1.9M394.60 299.13h-1.9M394.60 294.77h-1.9M394.60 290.42h-3.4M394.60 286.06h-1.9M394.60 281.71h-1.9M394.60 277.35h-1.9M394.60 272.99h-1.9M394.60 268.64h-3.4M394.60 264.28h-1.9M394.60 259.92h-1.9M394.60 255.57h-1.9M394.60 251.21h-1.9M394.60 246.85h-3.4M394.60 242.50h-1.9M394.60 238.14h-1.9M394.60 233.79h-1.9M394.60 229.43h-1.9M394.60 225.07h-3.4M394.60 220.72h-1.9M394.60 216.36h-1.9M394.60 212.00h-1.9M394.60 207.65h-1.9M394.60 203.29h-3.4M394.60 198.93h-1.9" stroke="#000" stroke-width="0.9" fill="none"/><text x="388.05" y="314.60" font-size="6.8" letter-spacing="0.35" text-anchor="end" fill="#111" stroke="#111" stroke-width="0.12">0</text><text x="388.05" y="292.82" font-size="6.8" letter-spacing="0.35" text-anchor="end" fill="#111" stroke="#111" stroke-width="0.12">50K</text><text x="388.05" y="271.04" font-size="6.8" letter-spacing="0.35" text-anchor="end" fill="#111" stroke="#111" stroke-width="0.12">100K</text><text x="388.05" y="249.25" font-size="6.8" letter-spacing="0.35" text-anchor="end" fill="#111" stroke="#111" stroke-width="0.12">150K</text><text x="388.05" y="227.47" font-size="6.8" letter-spacing="0.35" text-anchor="end" fill="#111" stroke="#111" stroke-width="0.12">200K</text><text x="388.05" y="205.69" font-size="6.8" letter-spacing="0.35" text-anchor="end" fill="#111" stroke="#111" stroke-width="0.12">250K</text><rect x="394.60" y="198.00" width="114.80" height="114.20" fill="none" stroke="#000" stroke-width="1.0"/><text transform="translate(452.00,340.80) scale(0.63,1)" font-size="10" font-weight="bold" text-anchor="middle" fill="#111">FSC-A</text><text transform="translate(364.10,255.10) rotate(-90) scale(0.64,1)" font-size="10" font-weight="bold" text-anchor="middle" fill="#111">SSC-A</text><g clip-path="url(#c7)"><g filter="url(#jet)"><polygon points="140.0,398.0 160.0,378.0 164.0,376.0 164.0,400.0" fill-opacity="0.26" filter="url(#bl3)"/><polygon points="84.0,478.0 163.0,438.0 163.0,462.0 120.0,478.0" fill-opacity="0.22" filter="url(#bl3)"/><polygon points="55.0,476.5 59.0,470.0 63.5,464.6 141.0,398.0 155.0,386.5 163.0,380.0 163.0,443.0 149.5,447.2 127.4,456.0 105.3,464.9 87.6,473.7 80.0,476.5" fill-opacity="0.48" filter="url(#bl1_6)"/><rect x="55" y="474.3" width="37" height="2.3000000000000114" fill-opacity="0.3" filter="url(#bl0_5)"/><ellipse cx="104" cy="437" rx="80" ry="10" fill="url(#rg)" opacity="0.3" transform="rotate(-40 104 437)"/><ellipse cx="85" cy="451.5" rx="60" ry="6" fill="url(#rg)" opacity="0.69" transform="rotate(-40 85 451.5)"/><ellipse cx="78.5" cy="457" rx="10" ry="3.4" fill="url(#rg)" opacity="0.9" transform="rotate(-40 78.5 457)"/><ellipse cx="62" cy="472.5" rx="10" ry="4" fill="url(#rg)" opacity="0.62"/><ellipse cx="62" cy="474" rx="5.5" ry="2.4" fill="url(#rg)" opacity="0.95"/></g></g><polygon points="61.5,462.2 61.5,466.0 73.9,473.3 160.6,406.7 153.5,383.5" fill="none" stroke="#000" stroke-width="1.5" stroke-linejoin="miter"/><text x="74.30" y="414.00" font-size="7.2" text-anchor="middle" fill="#1a1a1a" font-weight="normal" >Singlets</text><text x="74.30" y="422.40" font-size="7.2" text-anchor="middle" fill="#1a1a1a" font-weight="normal" >94.2</text><path d="M51.20 486.00v3.4M55.46 486.00v1.9M59.71 486.00v1.9M63.97 486.00v1.9M68.23 486.00v1.9M72.49 486.00v3.4M76.74 486.00v1.9M81.00 486.00v1.9M85.26 486.00v1.9M89.51 486.00v1.9M93.77 486.00v3.4M98.03 486.00v1.9M102.29 486.00v1.9M106.54 486.00v1.9M110.80 486.00v1.9M115.06 486.00v3.4M119.32 486.00v1.9M123.57 486.00v1.9M127.83 486.00v1.9M132.09 486.00v1.9M136.34 486.00v3.4M140.60 486.00v1.9M144.86 486.00v1.9M149.12 486.00v1.9M153.37 486.00v1.9M157.63 486.00v3.4M161.89 486.00v1.9" stroke="#000" stroke-width="0.9" fill="none"/><text x="51.20" y="499.80" font-size="6.8" letter-spacing="0.35" text-anchor="middle" fill="#111" stroke="#111" stroke-width="0.12">0</text><text x="72.49" y="499.80" font-size="6.8" letter-spacing="0.35" text-anchor="middle" fill="#111" stroke="#111" stroke-width="0.12">50K</text><text x="93.77" y="499.80" font-size="6.8" letter-spacing="0.35" text-anchor="middle" fill="#111" stroke="#111" stroke-width="0.12">100K</text><text x="115.06" y="499.80" font-size="6.8" letter-spacing="0.35" text-anchor="middle" fill="#111" stroke="#111" stroke-width="0.12">150K</text><text x="136.34" y="499.80" font-size="6.8" letter-spacing="0.35" text-anchor="middle" fill="#111" stroke="#111" stroke-width="0.12">200K</text><text x="157.63" y="499.80" font-size="6.8" letter-spacing="0.35" text-anchor="middle" fill="#111" stroke="#111" stroke-width="0.12">250K</text><path d="M51.20 486.00h-3.4M51.20 481.75h-1.9M51.20 477.49h-1.9M51.20 473.24h-1.9M51.20 468.99h-1.9M51.20 464.73h-3.4M51.20 460.48h-1.9M51.20 456.23h-1.9M51.20 451.97h-1.9M51.20 447.72h-1.9M51.20 443.47h-3.4M51.20 439.21h-1.9M51.20 434.96h-1.9M51.20 430.71h-1.9M51.20 426.45h-1.9M51.20 422.20h-3.4M51.20 417.95h-1.9M51.20 413.69h-1.9M51.20 409.44h-1.9M51.20 405.19h-1.9M51.20 400.93h-3.4M51.20 396.68h-1.9M51.20 392.43h-1.9M51.20 388.17h-1.9M51.20 383.92h-1.9M51.20 379.67h-3.4M51.20 375.41h-1.9" stroke="#000" stroke-width="0.9" fill="none"/><text x="44.55" y="488.40" font-size="6.8" letter-spacing="0.35" text-anchor="end" fill="#111" stroke="#111" stroke-width="0.12">0</text><text x="44.55" y="467.13" font-size="6.8" letter-spacing="0.35" text-anchor="end" fill="#111" stroke="#111" stroke-width="0.12">50K</text><text x="44.55" y="445.87" font-size="6.8" letter-spacing="0.35" text-anchor="end" fill="#111" stroke="#111" stroke-width="0.12">100K</text><text x="44.55" y="424.60" font-size="6.8" letter-spacing="0.35" text-anchor="end" fill="#111" stroke="#111" stroke-width="0.12">150K</text><text x="44.55" y="403.33" font-size="6.8" letter-spacing="0.35" text-anchor="end" fill="#111" stroke="#111" stroke-width="0.12">200K</text><text x="44.55" y="382.07" font-size="6.8" letter-spacing="0.35" text-anchor="end" fill="#111" stroke="#111" stroke-width="0.12">250K</text><rect x="51.20" y="374.50" width="111.60" height="111.50" fill="none" stroke="#000" stroke-width="1.0"/><text x="107.00" y="368.90" font-size="9.2" text-anchor="middle" fill="#111" font-weight="normal" >All events</text><text transform="translate(107.00,514.40) scale(0.63,1)" font-size="10" font-weight="bold" text-anchor="middle" fill="#111">FSC-A</text><text transform="translate(20.90,430.25) rotate(-90) scale(0.64,1)" font-size="10" font-weight="bold" text-anchor="middle" fill="#111">FSC-H</text><g clip-path="url(#c8)"><g filter="url(#jet)"><polygon points="229.5,472.0 229.5,400.0 234.0,385.0 246.0,376.0 268.0,376.0 279.0,388.0 281.0,472.0" fill-opacity="0.26" filter="url(#bl3)"/><polygon points="232.0,470.4 234.0,420.0 238.0,400.0 246.0,388.0 251.0,378.0 265.0,378.0 270.0,392.0 277.0,410.0 279.0,430.0 279.0,470.4" fill-opacity="0.48" filter="url(#bl2_2)"/><ellipse cx="257" cy="405" rx="8" ry="32" fill="url(#rg)" opacity="0.2"/><ellipse cx="252" cy="441" rx="11" ry="31" fill="url(#rg)" opacity="0.68"/><ellipse cx="252" cy="442.5" rx="7.5" ry="22" fill="url(#rg)" opacity="0.86"/><ellipse cx="252" cy="442.8" rx="4.5" ry="13.5" fill="url(#rg)" opacity="1.0"/><polygon points="280.0,470.4 280.0,403.0 320.0,403.0 323.0,430.0 322.0,470.4" fill-opacity="0.48" filter="url(#bl2)"/><polygon points="280.0,473.0 280.0,376.0 329.0,376.0 331.0,440.0 328.0,474.0" fill-opacity="0.22" filter="url(#bl3)"/><ellipse cx="304" cy="457" rx="19" ry="15" fill="url(#rg)" opacity="0.62"/><ellipse cx="296" cy="459" rx="11" ry="14" fill="url(#rg)" opacity="0.85"/><ellipse cx="295.3" cy="459.4" rx="5.5" ry="7" fill="url(#rg)" opacity="1.0"/></g><rect x="280.5" y="375.5" width="47" height="27" fill="#fff" fill-opacity="0.8"/></g><rect x="229" y="375.3" width="50.80000000000001" height="105.5" fill="none" stroke="#000" stroke-width="1.5"/><text x="305.50" y="386.60" font-size="7.5" text-anchor="middle" fill="#1a1a1a" font-weight="normal" >CD3<tspan dx="0.5" dy="-3.9" font-size="5.2">–</tspan><tspan dx="0.5" dy="3.9">CD20</tspan><tspan dx="0.5" dy="-3.9" font-size="5.2">–</tspan></text><text x="303.80" y="397.20" font-size="7.5" text-anchor="middle" fill="#1a1a1a" font-weight="normal" >54.7</text><path d="M252.53 486.00v1.9M245.25 486.00v1.9M255.89 486.00v1.9M241.88 486.00v1.9M258.85 486.00v1.9M238.92 486.00v1.9M261.41 486.00v1.9M236.37 486.00v1.9M263.62 486.00v1.9M234.16 486.00v1.9M265.54 486.00v1.9M232.24 486.00v1.9M267.23 486.00v1.9M230.54 486.00v1.9M268.74 486.00v1.9M229.03 486.00v1.9M270.10 486.00v1.9M227.68 486.00v1.9M271.32 486.00v3.4M226.45 486.00v3.4M279.65 486.00v1.9M284.62 486.00v1.9M288.16 486.00v1.9M290.91 486.00v1.9M293.17 486.00v1.9M295.07 486.00v1.9M296.72 486.00v1.9M298.18 486.00v1.9M299.48 486.00v3.4M308.05 486.00v1.9M313.07 486.00v1.9M316.63 486.00v1.9M319.39 486.00v1.9M321.64 486.00v1.9M323.55 486.00v1.9M325.20 486.00v1.9M326.66 486.00v1.9M327.96 486.00v3.4M336.53 486.00v1.9M248.89 486.00v3.4M249.26 486.00v1.9M248.52 486.00v1.9M249.63 486.00v1.9M248.15 486.00v1.9M249.99 486.00v1.9M247.78 486.00v1.9M250.36 486.00v1.9M247.41 486.00v1.9M250.73 486.00v1.9M247.05 486.00v1.9M251.09 486.00v1.9M246.68 486.00v1.9M251.45 486.00v1.9M246.32 486.00v1.9M251.81 486.00v1.9M245.96 486.00v1.9M252.17 486.00v1.9M245.60 486.00v1.9" stroke="#000" stroke-width="0.75" fill="none"/><text x="226.45" y="499.80" font-size="6.8" letter-spacing="0.35" text-anchor="middle" fill="#111" stroke="#111" stroke-width="0.12">-10<tspan dy="-2.6" font-size="4.6">3</tspan></text><text x="248.89" y="499.80" font-size="6.8" letter-spacing="0.35" text-anchor="middle" fill="#111" stroke="#111" stroke-width="0.12">0</text><text x="271.32" y="499.80" font-size="6.8" letter-spacing="0.35" text-anchor="middle" fill="#111" stroke="#111" stroke-width="0.12">10<tspan dy="-2.6" font-size="4.6">3</tspan></text><text x="299.48" y="499.80" font-size="6.8" letter-spacing="0.35" text-anchor="middle" fill="#111" stroke="#111" stroke-width="0.12">10<tspan dy="-2.6" font-size="4.6">4</tspan></text><text x="327.96" y="499.80" font-size="6.8" letter-spacing="0.35" text-anchor="middle" fill="#111" stroke="#111" stroke-width="0.12">10<tspan dy="-2.6" font-size="4.6">5</tspan></text><path d="M226.40 486.00h-3.4M226.40 481.75h-1.9M226.40 477.49h-1.9M226.40 473.24h-1.9M226.40 468.99h-1.9M226.40 464.73h-3.4M226.40 460.48h-1.9M226.40 456.23h-1.9M226.40 451.97h-1.9M226.40 447.72h-1.9M226.40 443.47h-3.4M226.40 439.21h-1.9M226.40 434.96h-1.9M226.40 430.71h-1.9M226.40 426.45h-1.9M226.40 422.20h-3.4M226.40 417.95h-1.9M226.40 413.69h-1.9M226.40 409.44h-1.9M226.40 405.19h-1.9M226.40 400.93h-3.4M226.40 396.68h-1.9M226.40 392.43h-1.9M226.40 388.17h-1.9M226.40 383.92h-1.9M226.40 379.67h-3.4M226.40 375.41h-1.9" stroke="#000" stroke-width="0.9" fill="none"/><text x="219.55" y="488.40" font-size="6.8" letter-spacing="0.35" text-anchor="end" fill="#111" stroke="#111" stroke-width="0.12">0</text><text x="219.55" y="467.13" font-size="6.8" letter-spacing="0.35" text-anchor="end" fill="#111" stroke="#111" stroke-width="0.12">50K</text><text x="219.55" y="445.87" font-size="6.8" letter-spacing="0.35" text-anchor="end" fill="#111" stroke="#111" stroke-width="0.12">100K</text><text x="219.55" y="424.60" font-size="6.8" letter-spacing="0.35" text-anchor="end" fill="#111" stroke="#111" stroke-width="0.12">150K</text><text x="219.55" y="403.33" font-size="6.8" letter-spacing="0.35" text-anchor="end" fill="#111" stroke="#111" stroke-width="0.12">200K</text><text x="219.55" y="382.07" font-size="6.8" letter-spacing="0.35" text-anchor="end" fill="#111" stroke="#111" stroke-width="0.12">250K</text><rect x="226.40" y="374.50" width="111.80" height="111.50" fill="none" stroke="#000" stroke-width="1.0"/><text x="282.30" y="368.90" font-size="9.2" text-anchor="middle" fill="#111" font-weight="normal" >Singlets</text><text transform="translate(282.30,514.40) scale(0.67,1)" font-size="10" font-weight="bold" text-anchor="middle" fill="#111">CD3_CD20</text><text transform="translate(196.40,430.25) rotate(-90) scale(0.71,1)" font-size="10" font-weight="bold" text-anchor="middle" fill="#111">FSC-H</text><g clip-path="url(#c9)"><g filter="url(#jet)"><polygon points="394.0,487.0 394.0,390.0 405.0,385.0 440.0,384.0 462.0,387.0 470.0,400.0 474.0,430.0 478.0,460.0 482.0,487.0" fill-opacity="0.2" filter="url(#bl3)"/><polygon points="466.0,405.0 500.0,405.0 505.0,487.0 470.0,487.0" fill-opacity="0.1" filter="url(#bl4)"/><polygon points="398.0,486.0 397.0,394.0 405.0,391.0 440.0,390.5 457.0,392.0 461.0,405.0 463.0,430.0 465.0,455.0 467.0,486.0" fill-opacity="0.48" filter="url(#bl2)"/><ellipse cx="427" cy="398.5" rx="34" ry="9" fill="url(#rg)" opacity="0.3"/><ellipse cx="426" cy="398.5" rx="24" ry="5.5" fill="url(#rg)" opacity="0.3"/><ellipse cx="425.3" cy="398.5" rx="14" ry="3.2" fill="url(#rg)" opacity="0.35"/><ellipse cx="430" cy="425" rx="30" ry="25" fill="url(#rg)" opacity="0.2"/><ellipse cx="407" cy="445" rx="12" ry="35" fill="url(#rg)" opacity="0.2"/><ellipse cx="442" cy="458" rx="25" ry="30" fill="url(#rgf)" opacity="0.3"/><ellipse cx="443" cy="459" rx="18" ry="23" fill="url(#rgf)" opacity="0.35"/><ellipse cx="444" cy="460" rx="12" ry="17" fill="url(#rgf)" opacity="0.42"/><ellipse cx="444.5" cy="461" rx="8.5" ry="12.5" fill="url(#rg)" opacity="0.55"/><ellipse cx="444.5" cy="461.5" rx="6.5" ry="10.5" fill="url(#rg)" opacity="0.85"/><ellipse cx="481.5" cy="388.6" rx="12" ry="12" fill="url(#rg)" opacity="0.42"/></g></g><polygon points="469.3,376.4 488.1,375.3 498.0,380.8 494.7,394.1 480.4,407.4 469.3,399.6 466.4,384.2" fill="none" stroke="#000" stroke-width="1.5" stroke-linejoin="miter"/><text x="490.50" y="418.40" font-size="7.2" text-anchor="middle" fill="#1a1a1a" font-weight="normal" >PC</text><text x="492.00" y="427.30" font-size="7.2" text-anchor="middle" fill="#1a1a1a" font-weight="normal" >0.60</text><path d="M422.35 486.00v1.9M417.13 486.00v1.9M424.86 486.00v1.9M414.62 486.00v1.9M427.19 486.00v1.9M412.28 486.00v1.9M429.32 486.00v1.9M410.15 486.00v1.9M431.25 486.00v1.9M408.22 486.00v1.9M432.99 486.00v1.9M406.48 486.00v1.9M434.56 486.00v1.9M404.91 486.00v1.9M435.99 486.00v1.9M403.48 486.00v1.9M437.30 486.00v1.9M402.18 486.00v1.9M438.49 486.00v3.4M400.98 486.00v3.4M446.82 486.00v1.9M451.89 486.00v1.9M455.52 486.00v1.9M458.35 486.00v1.9M460.67 486.00v1.9M462.63 486.00v1.9M464.33 486.00v1.9M465.83 486.00v1.9M467.17 486.00v3.4M476.00 486.00v1.9M481.17 486.00v1.9M484.84 486.00v1.9M487.68 486.00v1.9M490.01 486.00v1.9M491.97 486.00v1.9M493.68 486.00v1.9M495.18 486.00v1.9M496.52 486.00v3.4M505.36 486.00v1.9M419.74 486.00v3.4M420.00 486.00v1.9M419.47 486.00v1.9M420.26 486.00v1.9M419.21 486.00v1.9M420.52 486.00v1.9M418.95 486.00v1.9M420.79 486.00v1.9M418.69 486.00v1.9M421.05 486.00v1.9M418.42 486.00v1.9M421.31 486.00v1.9M418.16 486.00v1.9M421.57 486.00v1.9M417.90 486.00v1.9M421.83 486.00v1.9M417.64 486.00v1.9M422.09 486.00v1.9M417.38 486.00v1.9" stroke="#000" stroke-width="0.75" fill="none"/><text x="400.98" y="499.80" font-size="6.8" letter-spacing="0.35" text-anchor="middle" fill="#111" stroke="#111" stroke-width="0.12">-10<tspan dy="-2.6" font-size="4.6">3</tspan></text><text x="419.74" y="499.80" font-size="6.8" letter-spacing="0.35" text-anchor="middle" fill="#111" stroke="#111" stroke-width="0.12">0</text><text x="438.49" y="499.80" font-size="6.8" letter-spacing="0.35" text-anchor="middle" fill="#111" stroke="#111" stroke-width="0.12">10<tspan dy="-2.6" font-size="4.6">3</tspan></text><text x="467.17" y="499.80" font-size="6.8" letter-spacing="0.35" text-anchor="middle" fill="#111" stroke="#111" stroke-width="0.12">10<tspan dy="-2.6" font-size="4.6">4</tspan></text><text x="496.52" y="499.80" font-size="6.8" letter-spacing="0.35" text-anchor="middle" fill="#111" stroke="#111" stroke-width="0.12">10<tspan dy="-2.6" font-size="4.6">5</tspan></text><path d="M394.50 458.13h-1.9M394.50 475.13h-1.9M394.50 451.77h-1.9M394.50 481.48h-1.9M394.50 447.18h-1.9M394.50 486.07h-1.9M394.50 443.68h-1.9M394.50 440.88h-1.9M394.50 438.56h-1.9M394.50 436.58h-1.9M394.50 434.85h-1.9M394.50 433.31h-1.9M394.50 431.94h-3.4M394.50 422.85h-1.9M394.50 417.51h-1.9M394.50 413.72h-1.9M394.50 410.77h-1.9M394.50 408.37h-1.9M394.50 406.34h-1.9M394.50 404.58h-1.9M394.50 403.02h-1.9M394.50 401.63h-3.4M394.50 392.49h-1.9M394.50 387.14h-1.9M394.50 383.34h-1.9M394.50 380.40h-1.9M394.50 378.00h-1.9M394.50 375.96h-1.9M394.50 374.20h-1.9M394.50 466.63h-3.4M394.50 465.72h-1.9M394.50 467.54h-1.9M394.50 464.81h-1.9M394.50 468.44h-1.9M394.50 463.92h-1.9M394.50 469.34h-1.9M394.50 463.03h-1.9M394.50 470.22h-1.9M394.50 462.16h-1.9M394.50 471.09h-1.9M394.50 461.31h-1.9M394.50 471.94h-1.9M394.50 460.48h-1.9M394.50 472.77h-1.9M394.50 459.68h-1.9M394.50 473.58h-1.9M394.50 458.89h-1.9M394.50 474.36h-1.9" stroke="#000" stroke-width="0.75" fill="none"/><text x="388.05" y="469.03" font-size="6.8" letter-spacing="0.35" text-anchor="end" fill="#111" stroke="#111" stroke-width="0.12">0</text><text x="388.05" y="434.34" font-size="6.8" letter-spacing="0.35" text-anchor="end" fill="#111" stroke="#111" stroke-width="0.12">10<tspan dy="-2.6" font-size="4.6">3</tspan></text><text x="388.05" y="404.03" font-size="6.8" letter-spacing="0.35" text-anchor="end" fill="#111" stroke="#111" stroke-width="0.12">10<tspan dy="-2.6" font-size="4.6">4</tspan></text><rect x="394.50" y="374.30" width="111.70" height="111.70" fill="none" stroke="#000" stroke-width="1.0"/><text x="450.35" y="368.70" font-size="9.2" text-anchor="middle" fill="#111" font-weight="normal" >CD3<tspan dx="1.1" dy="-4" font-size="9">–</tspan><tspan dx="1.1" dy="4">CD20</tspan><tspan dx="1.1" dy="-4" font-size="9">–</tspan></text><text transform="translate(450.35,514.40) scale(0.58,1)" font-size="10" font-weight="bold" text-anchor="middle" fill="#111">CS1</text><text transform="translate(370.20,430.15) rotate(-90) scale(0.61,1)" font-size="10" font-weight="bold" text-anchor="middle" fill="#111">CD38</text><g clip-path="url(#c10)"><path d="M98.2 586.0h1.6M118.7 554.3h1.6M73.2 618.4h1.6M93.7 598.5h1.6M88.1 619.5h1.6M71.9 555.7h1.6M68.3 567.2h1.6M118.0 585.3h1.6M93.1 537.7h1.6M110.3 577.4h1.6M114.9 544.5h1.6M109.3 568.4h1.6M98.0 554.1h1.6M87.3 565.4h1.6M88.1 530.0h1.6M75.3 590.8h1.6M65.1 547.6h1.6M112.0 558.2h1.6M84.0 554.6h1.6M75.3 574.5h1.6M117.3 596.0h1.6M87.4 532.8h1.6M92.4 568.4h1.6M111.6 560.5h1.6M90.0 599.3h1.6M118.6 566.8h1.6M88.4 591.7h1.6M87.4 601.2h1.6M84.4 535.8h1.6M114.7 569.7h1.6M98.3 582.6h1.6M62.8 593.2h1.6M93.8 578.8h1.6M120.6 573.6h1.6M92.2 582.0h1.6M89.5 532.5h1.6M109.3 588.9h1.6M69.4 552.3h1.6M66.5 617.9h1.6M68.2 537.7h1.6M114.5 590.1h1.6M64.9 602.9h1.6M111.5 581.1h1.6M64.9 604.0h1.6M90.7 592.2h1.6M84.7 585.0h1.6M80.5 556.9h1.6M83.2 556.1h1.6M122.0 589.1h1.6M97.3 574.2h1.6M64.6 561.5h1.6M75.3 533.7h1.6M99.1 569.1h1.6M94.0 581.8h1.6M102.4 568.2h1.6M117.9 550.0h1.6M126.3 589.2h1.6M64.6 562.6h1.6M98.8 573.0h1.6M101.1 563.6h1.6M80.4 615.6h1.6M81.7 606.2h1.6M118.0 593.1h1.6M65.1 575.7h1.6M106.4 533.4h1.6M103.3 547.8h1.6M126.5 589.7h1.6M117.8 582.8h1.6M108.8 602.2h1.6M81.9 551.2h1.6M68.2 538.5h1.6M90.4 600.5h1.6M109.7 545.0h1.6M65.0 604.5h1.6M64.0 620.0h1.6M81.8 553.6h1.6M102.3 563.1h1.6M100.8 544.9h1.6M88.8 531.6h1.6M88.0 598.5h1.6M76.9 588.0h1.6M67.6 579.1h1.6M112.7 575.3h1.6M109.2 540.6h1.6M127.7 585.9h1.6M81.6 566.3h1.6M114.3 582.6h1.6M103.4 587.5h1.6M67.3 543.4h1.6M107.6 533.5h1.6M84.7 577.5h1.6M78.6 609.7h1.6M73.7 614.6h1.6M82.2 535.6h1.6M100.7 538.5h1.6M103.3 578.8h1.6M63.4 584.5h1.6M67.9 599.1h1.6M70.4 591.6h1.6M86.1 569.2h1.6M108.1 546.0h1.6M84.5 620.7h1.6M123.0 580.8h1.6M71.6 538.3h1.6M96.2 587.0h1.6M69.3 579.5h1.6M72.6 586.9h1.6M97.0 568.4h1.6M75.0 572.4h1.6M75.4 542.0h1.6M78.0 623.9h1.6M62.1 631.8h1.6M101.5 603.8h1.6M77.3 610.5h1.6M71.9 557.1h1.6M63.2 571.3h1.6M97.8 560.1h1.6M102.1 553.7h1.6M111.5 534.8h1.6M78.4 593.9h1.6M104.9 604.1h1.6M118.8 565.6h1.6M118.5 578.8h1.6M89.9 537.7h1.6M78.4 608.7h1.6M109.2 544.6h1.6M85.4 543.4h1.6M75.1 552.2h1.6M95.1 582.7h1.6M114.4 598.0h1.6M75.1 596.8h1.6M67.6 606.9h1.6M85.8 545.8h1.6M113.9 542.8h1.6M102.9 575.9h1.6M122.8 560.9h1.6M129.2 586.5h1.6M78.9 620.2h1.6M77.5 549.8h1.6M93.5 554.0h1.6M88.8 614.2h1.6M89.8 537.6h1.6M85.1 593.4h1.6M61.3 581.8h1.6M118.7 574.1h1.6M103.9 578.3h1.6M84.8 551.5h1.6M86.1 620.9h1.6M105.0 560.1h1.6M67.2 557.8h1.6M110.8 576.6h1.6M69.6 603.1h1.6M63.9 618.5h1.6M74.1 557.9h1.6M76.9 625.9h1.6M89.0 583.0h1.6M128.9 583.7h1.6M78.8 566.8h1.6M68.2 588.8h1.6M122.2 584.5h1.6" stroke="#808080" stroke-width="1.6" opacity="1" fill="none"/><g filter="url(#mg)"><polygon points="64.0,637.0 63.0,600.0 65.0,560.0 66.0,532.0 70.0,528.0 113.0,528.0 117.0,548.0 121.0,570.0 126.0,590.0 110.0,600.0 80.0,610.0 70.0,637.0" fill-opacity="0.3" filter="url(#bl2_5)"/><polygon points="76.0,585.0 74.0,528.0 108.0,528.0 110.0,585.0" fill-opacity="0.25" filter="url(#bl4)"/></g><path d="M100.9 619.6h1.8M151.6 600.0h1.8M71.4 596.8h1.8M99.5 599.6h1.8M125.9 578.2h1.8M115.2 600.7h1.8M152.9 587.4h1.8M131.0 591.8h1.8M107.9 606.3h1.8M151.3 604.7h1.8M78.2 594.1h1.8M102.4 606.1h1.8M126.9 571.1h1.8M138.7 571.8h1.8M117.3 581.6h1.8M159.9 598.7h1.8M142.9 600.7h1.8M133.6 601.8h1.8M120.4 611.9h1.8M141.8 576.0h1.8M77.7 588.7h1.8M150.0 562.2h1.8M136.4 562.8h1.8M93.2 578.7h1.8M82.3 573.2h1.8M156.5 564.8h1.8M95.4 582.9h1.8M102.6 578.9h1.8M158.4 570.0h1.8M108.1 612.8h1.8M126.4 608.4h1.8M138.2 585.3h1.8M118.8 600.3h1.8M137.8 570.7h1.8M99.5 618.8h1.8M115.9 571.6h1.8M125.8 569.5h1.8M145.0 592.5h1.8M90.0 568.3h1.8M70.8 591.1h1.8M137.9 600.9h1.8M104.4 610.6h1.8M74.9 573.0h1.8M127.2 622.5h1.8M126.1 601.9h1.8M139.9 579.6h1.8M156.2 605.7h1.8M97.5 579.4h1.8M143.0 576.2h1.8M116.1 589.1h1.8M129.6 617.6h1.8M77.1 575.4h1.8M113.2 613.9h1.8M129.4 593.3h1.8M103.6 593.0h1.8M90.8 613.4h1.8M141.3 612.9h1.8M78.8 600.4h1.8M137.9 587.5h1.8M136.8 611.6h1.8M127.6 615.9h1.8M76.9 602.8h1.8M133.0 595.9h1.8M123.1 611.8h1.8M90.8 566.0h1.8M130.2 623.1h1.8M142.6 577.0h1.8M132.5 555.4h1.8M146.2 574.4h1.8M77.6 570.6h1.8M118.4 610.6h1.8M125.7 575.5h1.8M96.4 592.6h1.8M85.4 609.5h1.8M143.3 590.3h1.8M125.7 604.3h1.8M121.3 580.0h1.8M114.2 594.2h1.8M158.2 574.7h1.8M110.8 560.0h1.8M108.5 601.2h1.8M133.4 584.1h1.8M97.5 564.2h1.8M103.5 571.2h1.8M83.0 605.2h1.8M114.6 582.9h1.8M83.4 602.8h1.8M83.3 569.9h1.8M118.9 602.6h1.8M134.8 604.0h1.8M134.8 597.3h1.8M89.9 576.7h1.8M80.0 597.4h1.8M98.8 617.4h1.8M142.8 584.1h1.8M79.1 608.3h1.8M153.3 609.6h1.8M110.7 611.6h1.8M119.2 588.1h1.8M84.5 568.9h1.8M133.6 620.9h1.8M160.1 582.8h1.8M135.8 578.8h1.8M143.6 613.1h1.8M85.0 593.9h1.8M145.4 609.0h1.8M151.1 590.1h1.8M125.2 616.4h1.8M111.5 598.0h1.8M84.2 568.3h1.8M152.8 578.7h1.8M74.2 594.3h1.8M108.7 593.9h1.8M126.4 603.0h1.8M110.1 580.0h1.8M129.9 603.5h1.8M87.5 598.7h1.8M131.8 585.4h1.8M86.4 579.4h1.8M141.2 611.8h1.8M126.1 605.6h1.8M85.5 600.4h1.8M155.2 597.9h1.8M154.1 569.7h1.8M138.2 557.8h1.8M80.0 588.4h1.8M118.5 611.6h1.8M113.2 596.5h1.8M122.3 610.0h1.8M117.5 571.8h1.8M145.3 610.9h1.8M108.9 559.2h1.8M127.7 565.5h1.8M159.7 591.0h1.8M135.6 613.7h1.8M147.1 557.6h1.8M100.0 572.7h1.8M138.7 561.1h1.8M131.9 594.9h1.8M115.0 584.2h1.8M103.9 595.8h1.8M127.6 618.7h1.8M135.8 609.7h1.8M130.7 613.7h1.8M106.2 615.9h1.8M107.3 603.0h1.8M88.8 572.5h1.8M98.2 574.3h1.8M73.3 583.2h1.8M160.1 599.1h1.8M155.4 607.2h1.8M137.8 570.6h1.8M88.5 580.9h1.8M96.2 607.8h1.8M139.9 616.7h1.8M141.9 589.9h1.8M94.7 597.0h1.8M100.0 590.3h1.8M158.6 562.1h1.8M116.0 598.7h1.8M116.8 620.3h1.8M103.9 618.5h1.8M131.6 622.6h1.8M134.1 624.2h1.8M81.3 582.8h1.8M131.3 601.8h1.8M137.1 606.5h1.8M88.4 569.3h1.8M84.5 569.5h1.8M158.5 598.2h1.8M121.9 599.2h1.8M122.6 602.1h1.8M99.4 560.7h1.8M75.1 587.0h1.8M159.0 601.6h1.8M90.8 607.7h1.8M93.7 580.7h1.8M131.6 583.4h1.8M135.4 557.1h1.8M155.4 575.7h1.8M145.2 567.0h1.8M147.8 610.2h1.8M129.7 570.8h1.8M152.7 561.9h1.8M128.6 594.0h1.8M128.8 563.5h1.8M160.3 578.7h1.8M127.9 592.7h1.8M99.6 604.2h1.8M88.7 577.5h1.8M115.3 558.4h1.8M88.3 609.7h1.8M92.0 578.6h1.8M138.9 566.8h1.8M101.6 577.4h1.8M126.9 585.4h1.8M149.2 553.8h1.8M129.0 612.7h1.8M109.1 603.4h1.8M111.0 563.0h1.8M86.6 583.0h1.8M99.4 585.2h1.8M155.8 591.6h1.8M136.9 592.2h1.8M148.1 558.3h1.8M156.5 589.4h1.8M148.7 565.9h1.8M154.6 584.6h1.8M135.7 555.6h1.8M108.4 573.8h1.8M84.1 599.7h1.8M160.4 586.1h1.8M128.0 588.6h1.8M136.6 590.3h1.8M86.9 587.4h1.8M123.3 598.8h1.8M156.7 605.5h1.8M148.0 577.6h1.8M152.5 563.6h1.8M86.2 594.8h1.8M152.4 556.1h1.8M107.0 560.5h1.8M82.8 606.2h1.8M121.2 620.5h1.8M103.4 600.9h1.8M86.8 585.8h1.8M114.1 621.1h1.8M124.9 566.2h1.8M145.7 565.1h1.8M95.5 580.5h1.8M97.6 600.2h1.8M89.3 584.1h1.8M119.1 603.4h1.8M115.2 593.6h1.8M150.9 554.3h1.8M121.4 583.9h1.8M104.1 616.6h1.8M128.8 614.5h1.8M157.8 570.2h1.8M156.3 580.6h1.8M92.4 571.7h1.8M105.2 589.7h1.8M147.2 610.5h1.8M128.0 588.5h1.8M128.5 594.0h1.8M142.5 617.4h1.8M158.3 564.5h1.8M119.9 563.6h1.8M131.8 569.2h1.8M87.2 577.5h1.8M94.3 556.5h1.8M70.0 559.1h1.8M99.7 547.8h1.8M102.3 561.6h1.8M102.6 557.8h1.8M101.0 535.6h1.8M78.6 546.1h1.8M105.7 543.1h1.8M101.8 560.2h1.8M72.9 537.3h1.8M77.6 539.2h1.8M87.9 545.7h1.8M70.2 552.5h1.8M116.9 552.2h1.8M85.2 557.6h1.8M89.6 535.4h1.8M102.5 534.8h1.8M100.7 554.7h1.8M76.6 560.2h1.8M82.2 538.7h1.8M110.4 553.2h1.8M97.8 536.3h1.8M105.2 539.4h1.8M75.4 557.2h1.8M80.3 557.9h1.8M72.2 567.3h1.8M84.1 549.9h1.8M83.3 545.5h1.8M91.9 538.9h1.8M74.8 531.8h1.8M99.7 557.3h1.8M80.2 561.3h1.8M105.4 542.4h1.8M92.6 535.9h1.8M116.2 551.5h1.8M103.4 544.2h1.8M104.7 537.6h1.8M109.0 561.7h1.8M71.1 552.6h1.8M76.3 557.7h1.8M109.4 561.2h1.8M78.5 531.9h1.8M101.8 551.7h1.8M73.5 536.1h1.8M97.5 532.5h1.8M100.2 538.1h1.8M80.0 545.8h1.8M94.8 558.4h1.8M67.7 558.4h1.8M77.9 540.2h1.8M100.5 557.0h1.8M77.1 541.1h1.8M101.8 539.0h1.8M74.5 537.5h1.8M108.9 541.0h1.8M83.0 558.3h1.8M69.0 553.6h1.8M70.8 530.1h1.8M93.7 534.4h1.8M90.9 536.3h1.8M72.5 549.3h1.8M94.1 543.2h1.8M104.7 550.2h1.8M107.9 532.5h1.8M69.8 544.3h1.8M92.1 538.6h1.8M102.1 537.3h1.8M83.2 548.0h1.8M104.5 560.4h1.8M86.1 546.8h1.8M99.4 532.4h1.8M90.6 554.7h1.8M81.0 529.6h1.8M73.0 547.6h1.8M99.4 540.6h1.8M69.7 559.5h1.8M107.6 546.4h1.8M70.6 544.5h1.8M71.1 568.5h1.8M107.5 533.7h1.8M71.8 531.0h1.8M74.9 550.3h1.8M111.0 535.1h1.8M75.4 560.1h1.8M89.0 542.2h1.8M72.7 538.2h1.8M80.0 559.1h1.8M98.6 540.1h1.8M91.1 558.1h1.8M149.5 550.9h1.8M124.1 569.1h1.8M120.0 565.9h1.8M130.9 553.5h1.8M127.0 558.3h1.8M161.6 551.3h1.8M155.2 555.1h1.8M123.1 564.4h1.8M131.1 552.1h1.8M134.7 566.1h1.8M155.6 560.6h1.8M143.5 567.8h1.8M159.7 555.2h1.8M154.9 566.0h1.8M127.5 556.0h1.8M132.6 555.8h1.8M132.8 550.4h1.8M125.7 568.0h1.8M134.3 562.0h1.8M156.7 564.6h1.8M126.5 568.2h1.8M152.8 569.8h1.8M149.2 564.6h1.8M153.2 553.6h1.8M145.8 556.4h1.8M154.5 550.9h1.8M140.3 555.4h1.8M153.6 555.6h1.8M154.7 566.7h1.8M156.3 551.1h1.8M159.1 564.4h1.8M146.8 562.4h1.8M140.7 558.0h1.8M130.9 565.2h1.8M151.8 567.1h1.8M125.1 555.5h1.8M126.7 550.2h1.8M130.4 548.6h1.8M152.4 553.0h1.8M118.3 549.5h1.8" stroke="#ee0000" stroke-width="1.8" opacity="1" fill="none"/><g filter="url(#mr)"><polygon points="66,636 66,605 69,592 78,588 92,584 110,582 127,584 139,592 143,600 136,608 123,615 105,623 90,630 76,634" fill-opacity="0.85" filter="url(#bl2_5)"/><polygon points="64,638 64,590 70,565 90,555 110,552 130,560 150,580 152,600 140,620 110,636" fill="url(#vg10)" filter="url(#bl3)"/><polygon points="80.0,560.0 95.0,545.0 125.0,548.0 150.0,570.0 155.0,590.0 120.0,585.0" fill-opacity="0.12" filter="url(#bl3)"/></g></g><rect x="114.6" y="527.2" width="48.2" height="20.6" fill="#fff" stroke="#000" stroke-width="0.9"/><text x="117.40" y="535.60" font-size="7.2" text-anchor="start" fill="#d42020" font-weight="normal" >PCs</text><text x="117.40" y="544.50" font-size="7.2" text-anchor="start" fill="#7a7a7a" font-weight="normal" >Singlets</text><path d="M51.20 638.40v3.4M55.46 638.40v1.9M59.71 638.40v1.9M63.97 638.40v1.9M68.23 638.40v1.9M72.49 638.40v3.4M76.74 638.40v1.9M81.00 638.40v1.9M85.26 638.40v1.9M89.51 638.40v1.9M93.77 638.40v3.4M98.03 638.40v1.9M102.29 638.40v1.9M106.54 638.40v1.9M110.80 638.40v1.9M115.06 638.40v3.4M119.32 638.40v1.9M123.57 638.40v1.9M127.83 638.40v1.9M132.09 638.40v1.9M136.34 638.40v3.4M140.60 638.40v1.9M144.86 638.40v1.9M149.12 638.40v1.9M153.37 638.40v1.9M157.63 638.40v3.4M161.89 638.40v1.9" stroke="#000" stroke-width="0.9" fill="none"/><text x="51.20" y="652.20" font-size="6.8" letter-spacing="0.35" text-anchor="middle" fill="#111" stroke="#111" stroke-width="0.12">0</text><text x="72.49" y="652.20" font-size="6.8" letter-spacing="0.35" text-anchor="middle" fill="#111" stroke="#111" stroke-width="0.12">50K</text><text x="93.77" y="652.20" font-size="6.8" letter-spacing="0.35" text-anchor="middle" fill="#111" stroke="#111" stroke-width="0.12">100K</text><text x="115.06" y="652.20" font-size="6.8" letter-spacing="0.35" text-anchor="middle" fill="#111" stroke="#111" stroke-width="0.12">150K</text><text x="136.34" y="652.20" font-size="6.8" letter-spacing="0.35" text-anchor="middle" fill="#111" stroke="#111" stroke-width="0.12">200K</text><text x="157.63" y="652.20" font-size="6.8" letter-spacing="0.35" text-anchor="middle" fill="#111" stroke="#111" stroke-width="0.12">250K</text><path d="M51.20 638.40h-3.4M51.20 634.16h-1.9M51.20 629.92h-1.9M51.20 625.67h-1.9M51.20 621.43h-1.9M51.20 617.19h-3.4M51.20 612.95h-1.9M51.20 608.71h-1.9M51.20 604.46h-1.9M51.20 600.22h-1.9M51.20 595.98h-3.4M51.20 591.74h-1.9M51.20 587.50h-1.9M51.20 583.25h-1.9M51.20 579.01h-1.9M51.20 574.77h-3.4M51.20 570.53h-1.9M51.20 566.29h-1.9M51.20 562.05h-1.9M51.20 557.80h-1.9M51.20 553.56h-3.4M51.20 549.32h-1.9M51.20 545.08h-1.9M51.20 540.84h-1.9M51.20 536.59h-1.9M51.20 532.35h-3.4M51.20 528.11h-1.9" stroke="#000" stroke-width="0.9" fill="none"/><text x="44.55" y="640.80" font-size="6.8" letter-spacing="0.35" text-anchor="end" fill="#111" stroke="#111" stroke-width="0.12">0</text><text x="44.55" y="619.59" font-size="6.8" letter-spacing="0.35" text-anchor="end" fill="#111" stroke="#111" stroke-width="0.12">50K</text><text x="44.55" y="598.38" font-size="6.8" letter-spacing="0.35" text-anchor="end" fill="#111" stroke="#111" stroke-width="0.12">100K</text><text x="44.55" y="577.17" font-size="6.8" letter-spacing="0.35" text-anchor="end" fill="#111" stroke="#111" stroke-width="0.12">150K</text><text x="44.55" y="555.96" font-size="6.8" letter-spacing="0.35" text-anchor="end" fill="#111" stroke="#111" stroke-width="0.12">200K</text><text x="44.55" y="534.75" font-size="6.8" letter-spacing="0.35" text-anchor="end" fill="#111" stroke="#111" stroke-width="0.12">250K</text><rect x="51.20" y="527.20" width="111.60" height="111.20" fill="none" stroke="#000" stroke-width="1.0"/><text transform="translate(107.00,667.80) scale(0.63,1)" font-size="10" font-weight="bold" text-anchor="middle" fill="#111">FSC-A</text><text transform="translate(21.00,582.80) rotate(-90) scale(0.64,1)" font-size="10" font-weight="bold" text-anchor="middle" fill="#111">SSC-A</text><g clip-path="url(#c11)"><path d="M281.1 567.1h1.6M260.7 584.6h1.6M249.6 604.4h1.6M292.3 590.5h1.6M249.7 625.2h1.6M268.8 559.1h1.6M269.9 621.3h1.6M264.9 591.6h1.6M257.4 625.7h1.6M275.6 567.9h1.6M253.5 581.2h1.6M236.1 628.6h1.6M229.5 600.8h1.6M258.6 611.7h1.6M258.3 557.9h1.6M265.2 620.6h1.6M284.6 580.7h1.6M243.2 614.1h1.6M285.5 568.8h1.6M258.6 582.7h1.6M241.7 576.0h1.6M251.0 613.0h1.6M240.6 597.0h1.6M263.5 607.5h1.6M237.5 632.3h1.6M285.1 565.8h1.6M253.4 629.5h1.6M242.1 552.0h1.6M263.7 627.3h1.6M264.3 630.2h1.6M267.9 562.4h1.6M273.1 619.1h1.6M257.9 601.8h1.6M245.9 573.7h1.6M257.7 594.1h1.6M261.2 557.9h1.6M227.4 579.3h1.6M279.3 614.4h1.6M244.3 572.0h1.6M264.7 565.1h1.6M271.0 627.8h1.6M241.7 600.4h1.6M279.6 614.4h1.6M279.0 611.1h1.6M246.9 622.1h1.6M294.5 554.5h1.6M295.9 588.1h1.6M233.3 556.0h1.6M285.2 608.3h1.6M237.4 589.6h1.6M251.5 615.9h1.6M244.9 567.1h1.6M238.8 585.3h1.6M272.1 576.1h1.6M238.8 568.8h1.6M233.2 566.6h1.6M250.1 593.4h1.6M240.4 591.3h1.6M262.5 631.3h1.6M261.4 567.0h1.6M270.2 562.4h1.6M239.4 556.3h1.6M256.4 580.5h1.6M258.0 580.3h1.6M277.4 583.7h1.6M238.1 624.3h1.6M252.9 604.2h1.6M294.2 584.5h1.6M258.6 575.6h1.6M267.5 607.0h1.6M237.6 581.5h1.6M270.1 608.2h1.6M251.8 631.3h1.6M267.1 584.6h1.6M240.3 559.9h1.6M229.0 577.8h1.6M262.0 592.6h1.6M253.5 627.0h1.6M252.5 595.7h1.6M261.8 578.6h1.6M255.3 602.4h1.6M284.4 572.4h1.6M254.0 583.3h1.6M253.5 628.5h1.6M266.3 573.7h1.6M251.3 620.6h1.6M238.7 609.3h1.6M228.6 566.6h1.6M231.3 619.3h1.6M237.7 569.6h1.6M231.2 572.7h1.6M280.5 611.9h1.6M267.2 629.3h1.6M233.5 629.6h1.6M258.7 566.6h1.6M255.2 558.0h1.6M278.7 604.2h1.6M235.2 563.9h1.6M240.2 602.4h1.6M258.7 583.6h1.6M245.5 570.0h1.6M278.5 565.1h1.6M240.1 563.1h1.6M252.6 613.4h1.6M231.3 595.6h1.6M276.7 552.9h1.6M259.1 618.0h1.6M269.0 588.8h1.6M251.6 584.1h1.6M237.4 565.1h1.6M255.0 609.4h1.6M227.3 619.0h1.6M284.4 594.3h1.6M227.4 618.6h1.6M257.2 607.6h1.6M268.6 612.6h1.6M256.8 632.6h1.6M271.9 577.2h1.6M254.5 573.1h1.6M250.2 615.1h1.6M246.1 602.5h1.6M238.6 623.8h1.6M262.7 573.7h1.6M294.4 557.1h1.6M237.9 615.5h1.6M268.9 628.0h1.6M269.8 586.7h1.6M295.1 557.5h1.6M283.7 558.8h1.6M247.2 559.8h1.6M290.6 588.0h1.6M280.0 572.1h1.6M280.3 605.8h1.6M234.1 592.5h1.6M279.7 568.4h1.6M274.8 573.9h1.6M254.0 629.1h1.6M258.2 599.2h1.6M260.3 624.3h1.6M256.3 631.7h1.6M261.5 560.2h1.6M281.7 562.5h1.6M276.6 554.6h1.6M281.0 561.3h1.6M273.5 582.4h1.6M245.2 620.1h1.6M229.4 591.1h1.6M233.3 623.2h1.6M292.2 553.0h1.6M260.9 590.3h1.6M279.5 612.7h1.6M252.1 630.2h1.6M240.5 561.7h1.6M286.5 560.3h1.6M240.6 593.0h1.6M251.6 564.1h1.6M294.9 590.8h1.6M284.4 571.5h1.6M293.6 569.0h1.6M273.0 595.8h1.6M289.4 588.1h1.6M234.2 628.6h1.6M285.8 608.7h1.6M281.4 570.0h1.6M260.8 620.8h1.6M238.7 608.8h1.6M267.5 584.8h1.6M239.2 561.8h1.6M261.3 592.4h1.6M246.6 581.6h1.6M267.4 615.5h1.6M270.0 563.9h1.6M291.7 581.6h1.6M237.2 600.1h1.6M297.6 583.1h1.6M267.0 577.0h1.6M229.1 567.6h1.6M236.1 574.4h1.6M273.0 598.4h1.6M253.4 631.6h1.6M273.3 596.7h1.6M253.3 602.0h1.6M248.9 633.4h1.6M244.8 633.7h1.6M267.4 567.7h1.6M264.0 560.2h1.6M276.9 629.7h1.6M230.6 586.7h1.6M297.7 576.9h1.6M257.3 627.6h1.6M270.0 620.9h1.6M228.0 567.4h1.6M240.1 621.6h1.6M234.4 630.2h1.6M246.5 625.7h1.6M264.6 577.8h1.6M297.5 584.8h1.6M277.9 555.8h1.6M235.1 614.2h1.6M246.7 562.7h1.6M253.6 606.9h1.6M274.7 563.9h1.6M280.0 597.4h1.6M253.2 627.4h1.6M245.6 562.2h1.6M238.5 562.8h1.6M270.0 618.9h1.6M238.7 593.2h1.6M268.9 598.2h1.6M257.1 596.7h1.6M257.9 570.4h1.6M282.2 570.8h1.6M287.2 570.8h1.6M233.8 591.1h1.6M255.3 578.9h1.6M282.9 569.1h1.6M275.9 621.8h1.6M260.0 593.3h1.6M240.2 556.0h1.6M233.0 578.5h1.6M233.5 605.8h1.6M257.9 576.5h1.6M264.4 630.6h1.6M244.8 563.3h1.6M249.3 577.9h1.6M258.3 564.3h1.6M230.3 560.5h1.6M238.4 603.8h1.6M231.3 593.6h1.6M251.5 558.8h1.6M281.2 611.6h1.6M264.3 564.5h1.6M275.9 587.3h1.6M275.3 557.9h1.6M243.3 584.3h1.6M241.5 557.6h1.6M251.5 572.9h1.6M276.0 569.1h1.6M256.3 609.2h1.6M258.4 563.4h1.6M232.1 596.7h1.6M234.3 593.2h1.6M262.7 566.7h1.6M275.9 592.6h1.6M286.0 575.1h1.6M261.6 562.2h1.6M262.3 560.9h1.6M277.1 610.0h1.6M230.3 611.5h1.6M285.5 559.7h1.6M250.5 554.6h1.6M269.6 612.2h1.6M252.4 609.8h1.6M253.8 611.3h1.6M247.2 634.1h1.6M233.7 612.4h1.6M238.3 625.0h1.6M279.3 559.9h1.6M254.8 607.7h1.6M252.8 625.2h1.6M299.7 577.4h1.6M290.2 600.6h1.6M241.3 594.6h1.6M262.3 579.0h1.6M254.3 593.9h1.6M269.9 569.1h1.6M247.3 593.2h1.6M263.8 586.0h1.6M275.5 565.9h1.6M265.8 573.7h1.6M283.2 610.5h1.6M284.0 594.5h1.6M245.2 629.6h1.6M264.3 582.3h1.6M248.2 584.6h1.6M278.7 620.4h1.6M262.2 612.9h1.6M242.5 588.9h1.6M253.1 576.3h1.6M253.2 614.9h1.6M280.5 567.8h1.6M244.1 617.5h1.6M274.8 608.2h1.6M273.4 609.6h1.6M246.9 555.2h1.6M253.3 552.8h1.6M285.7 569.7h1.6M251.6 559.3h1.6M262.6 581.8h1.6M246.7 591.9h1.6M279.0 627.0h1.6M259.1 586.2h1.6M249.9 633.8h1.6M240.4 563.6h1.6M247.5 629.3h1.6M289.2 578.5h1.6M258.2 566.5h1.6M283.4 582.2h1.6M235.7 627.6h1.6M259.1 584.2h1.6" stroke="#808080" stroke-width="1.6" opacity="1" fill="none"/><g filter="url(#mg)"><polygon points="231.0,578.0 231.0,563.0 240.0,559.0 247.0,557.0 269.0,555.0 284.7,554.0 291.3,558.3 292.0,574.0 269.0,578.2 247.0,578.2" fill-opacity="0.72" filter="url(#bl1_8)"/><polygon points="236.0,625.0 236.0,602.0 260.0,592.0 296.0,583.0 299.0,590.0 290.0,605.0 280.0,625.0" fill-opacity="0.72" filter="url(#bl1_8)"/><polygon points="231.0,604.0 231.0,578.0 250.0,580.0 262.0,588.0 250.0,598.0" fill-opacity="0.3" filter="url(#bl2_5)"/></g><path d="M315.5 574.2h1.8M297.6 585.4h1.8M308.5 616.2h1.8M307.3 609.4h1.8M316.4 568.6h1.8M315.9 577.4h1.8M303.2 624.0h1.8M325.2 572.4h1.8M315.2 600.7h1.8M307.0 556.0h1.8M307.1 606.5h1.8M315.7 595.3h1.8M300.8 570.7h1.8M306.7 587.6h1.8M308.3 627.9h1.8M304.5 624.1h1.8M304.6 601.7h1.8M308.7 556.2h1.8M321.7 620.3h1.8M305.3 617.4h1.8M311.9 634.9h1.8M298.7 584.6h1.8M304.1 604.9h1.8M321.1 622.9h1.8M314.0 585.1h1.8M321.8 561.7h1.8M305.1 615.5h1.8M310.7 635.4h1.8M299.8 591.3h1.8M299.9 560.6h1.8M308.4 588.9h1.8M312.7 577.0h1.8M318.8 595.8h1.8M312.8 594.0h1.8M308.5 624.5h1.8M303.5 625.8h1.8M308.1 580.8h1.8M316.1 599.8h1.8M305.8 560.0h1.8M326.6 583.7h1.8M300.5 607.5h1.8M313.5 580.2h1.8M307.2 623.1h1.8M307.5 587.6h1.8M326.7 583.0h1.8M309.5 566.4h1.8M317.5 608.2h1.8M310.8 586.7h1.8M304.2 618.6h1.8M311.2 622.0h1.8M308.6 613.9h1.8M297.9 571.2h1.8M326.8 609.6h1.8M317.9 594.3h1.8M311.6 569.4h1.8M302.4 606.6h1.8M318.5 574.5h1.8M317.0 564.3h1.8M316.0 567.2h1.8M312.8 579.1h1.8M314.1 564.1h1.8M312.0 604.2h1.8M301.2 578.6h1.8M318.0 598.3h1.8M316.1 617.7h1.8M314.7 571.4h1.8M310.7 621.9h1.8M314.6 615.5h1.8M308.3 590.2h1.8M327.1 621.2h1.8M317.2 561.8h1.8M319.6 575.2h1.8M323.2 567.7h1.8M322.7 596.2h1.8M310.6 621.9h1.8M318.3 597.2h1.8M323.7 569.9h1.8M324.9 581.1h1.8M297.8 580.9h1.8M299.0 559.0h1.8M316.3 563.0h1.8M302.0 577.3h1.8M305.6 629.4h1.8M325.1 625.2h1.8M327.7 589.5h1.8M321.7 576.3h1.8M325.7 620.3h1.8M319.7 571.9h1.8M314.1 603.8h1.8M323.7 564.9h1.8M318.7 591.5h1.8M321.4 590.8h1.8M303.1 632.4h1.8M305.7 614.8h1.8M322.8 573.6h1.8M318.5 585.9h1.8M303.9 571.0h1.8M326.6 583.6h1.8M312.8 594.6h1.8M297.8 615.5h1.8M320.1 625.7h1.8M308.1 570.4h1.8M307.8 613.8h1.8M317.4 586.7h1.8M313.3 565.8h1.8M325.5 592.2h1.8M312.7 618.3h1.8M303.1 613.0h1.8M308.0 620.4h1.8M299.9 575.9h1.8" stroke="#ee0000" stroke-width="1.8" opacity="1" fill="none"/><g filter="url(#mr)"><rect x="298.5" y="574" width="29.5" height="51" rx="13" ry="16" fill-opacity="0.9" filter="url(#bl1)"/></g></g><rect x="290.2" y="527.5" width="48" height="20.3" fill="#fff" stroke="#000" stroke-width="0.9"/><text x="293.00" y="535.60" font-size="7.2" text-anchor="start" fill="#d42020" font-weight="normal" >PCs</text><text x="293.00" y="544.50" font-size="7.2" text-anchor="start" fill="#7a7a7a" font-weight="normal" >Singlets</text><path d="M254.28 638.50v1.9M249.24 638.50v1.9M256.70 638.50v1.9M246.81 638.50v1.9M258.97 638.50v1.9M244.55 638.50v1.9M261.04 638.50v1.9M242.47 638.50v1.9M262.93 638.50v1.9M240.58 638.50v1.9M264.64 638.50v1.9M238.88 638.50v1.9M266.18 638.50v1.9M237.33 638.50v1.9M267.59 638.50v1.9M235.93 638.50v1.9M268.88 638.50v1.9M234.64 638.50v1.9M270.06 638.50v3.4M233.46 638.50v3.4M278.31 638.50v1.9M283.34 638.50v1.9M286.95 638.50v1.9M289.76 638.50v1.9M292.06 638.50v1.9M294.01 638.50v1.9M295.70 638.50v1.9M297.19 638.50v1.9M298.52 638.50v3.4M307.30 638.50v1.9M312.44 638.50v1.9M316.09 638.50v1.9M318.92 638.50v1.9M321.23 638.50v1.9M323.18 638.50v1.9M324.88 638.50v1.9M326.37 638.50v1.9M327.70 638.50v3.4M336.49 638.50v1.9M251.76 638.50v3.4M252.01 638.50v1.9M251.50 638.50v1.9M252.26 638.50v1.9M251.25 638.50v1.9M252.52 638.50v1.9M251.00 638.50v1.9M252.77 638.50v1.9M250.74 638.50v1.9M253.02 638.50v1.9M250.49 638.50v1.9M253.27 638.50v1.9M250.24 638.50v1.9M253.53 638.50v1.9M249.99 638.50v1.9M253.78 638.50v1.9M249.74 638.50v1.9M254.03 638.50v1.9M249.49 638.50v1.9" stroke="#000" stroke-width="0.75" fill="none"/><text x="233.46" y="652.30" font-size="6.8" letter-spacing="0.35" text-anchor="middle" fill="#111" stroke="#111" stroke-width="0.12">-10<tspan dy="-2.6" font-size="4.6">3</tspan></text><text x="251.76" y="652.30" font-size="6.8" letter-spacing="0.35" text-anchor="middle" fill="#111" stroke="#111" stroke-width="0.12">0</text><text x="270.06" y="652.30" font-size="6.8" letter-spacing="0.35" text-anchor="middle" fill="#111" stroke="#111" stroke-width="0.12">10<tspan dy="-2.6" font-size="4.6">3</tspan></text><text x="298.52" y="652.30" font-size="6.8" letter-spacing="0.35" text-anchor="middle" fill="#111" stroke="#111" stroke-width="0.12">10<tspan dy="-2.6" font-size="4.6">4</tspan></text><text x="327.70" y="652.30" font-size="6.8" letter-spacing="0.35" text-anchor="middle" fill="#111" stroke="#111" stroke-width="0.12">10<tspan dy="-2.6" font-size="4.6">5</tspan></text><path d="M226.50 612.70h-1.9M226.50 623.97h-1.9M226.50 608.01h-1.9M226.50 628.66h-1.9M226.50 604.34h-1.9M226.50 632.33h-1.9M226.50 601.43h-1.9M226.50 635.25h-1.9M226.50 599.04h-1.9M226.50 637.63h-1.9M226.50 597.04h-1.9M226.50 595.31h-1.9M226.50 593.80h-1.9M226.50 592.46h-1.9M226.50 591.25h-3.4M226.50 583.22h-1.9M226.50 578.48h-1.9M226.50 575.12h-1.9M226.50 572.51h-1.9M226.50 570.37h-1.9M226.50 568.57h-1.9M226.50 567.01h-1.9M226.50 565.63h-1.9M226.50 564.39h-3.4M226.50 556.27h-1.9M226.50 551.52h-1.9M226.50 548.16h-1.9M226.50 545.54h-1.9M226.50 543.41h-1.9M226.50 541.60h-1.9M226.50 540.04h-1.9M226.50 538.66h-1.9M226.50 537.42h-3.4M226.50 529.30h-1.9M226.50 618.34h-3.4M226.50 617.75h-1.9M226.50 618.92h-1.9M226.50 617.17h-1.9M226.50 619.51h-1.9M226.50 616.59h-1.9M226.50 620.09h-1.9M226.50 616.01h-1.9M226.50 620.66h-1.9M226.50 615.44h-1.9M226.50 621.23h-1.9M226.50 614.87h-1.9M226.50 621.80h-1.9M226.50 614.32h-1.9M226.50 622.36h-1.9M226.50 613.77h-1.9M226.50 622.90h-1.9M226.50 613.23h-1.9M226.50 623.44h-1.9" stroke="#000" stroke-width="0.75" fill="none"/><text x="219.65" y="620.74" font-size="6.8" letter-spacing="0.35" text-anchor="end" fill="#111" stroke="#111" stroke-width="0.12">0</text><text x="219.65" y="593.65" font-size="6.8" letter-spacing="0.35" text-anchor="end" fill="#111" stroke="#111" stroke-width="0.12">10<tspan dy="-2.6" font-size="4.6">3</tspan></text><text x="219.65" y="566.79" font-size="6.8" letter-spacing="0.35" text-anchor="end" fill="#111" stroke="#111" stroke-width="0.12">10<tspan dy="-2.6" font-size="4.6">4</tspan></text><text x="219.65" y="539.82" font-size="6.8" letter-spacing="0.35" text-anchor="end" fill="#111" stroke="#111" stroke-width="0.12">10<tspan dy="-2.6" font-size="4.6">5</tspan></text><rect x="226.50" y="527.50" width="111.70" height="111.00" fill="none" stroke="#000" stroke-width="1.0"/><text transform="translate(282.35,667.90) scale(0.58,1)" font-size="10" font-weight="bold" text-anchor="middle" fill="#111">CS1</text><text transform="translate(202.00,583.00) rotate(-90) scale(0.58,1)" font-size="10" font-weight="bold" text-anchor="middle" fill="#111">CD27</text><g clip-path="url(#c12)"><path d="M442.5 592.1h1.6M424.4 599.6h1.6M415.8 619.0h1.6M436.7 601.3h1.6M452.4 577.5h1.6M458.4 615.6h1.6M445.5 617.8h1.6M428.6 606.8h1.6M464.7 569.6h1.6M413.5 621.7h1.6M410.8 599.5h1.6M411.3 591.6h1.6M435.6 588.9h1.6M433.3 619.4h1.6M451.7 598.9h1.6M452.7 578.6h1.6M448.9 572.6h1.6M438.1 604.9h1.6M424.0 592.0h1.6M402.6 604.5h1.6M436.5 611.4h1.6M405.1 619.6h1.6M419.0 590.5h1.6M424.0 615.7h1.6M446.8 615.1h1.6M400.6 613.3h1.6M426.8 626.7h1.6M403.1 628.0h1.6M433.8 588.9h1.6M428.6 614.2h1.6M456.2 591.7h1.6M460.4 586.4h1.6M444.3 598.1h1.6M430.3 599.3h1.6M415.2 597.9h1.6M458.5 561.1h1.6M423.8 622.8h1.6M441.9 603.7h1.6M457.0 591.2h1.6M447.9 611.1h1.6M412.3 604.5h1.6M444.0 605.7h1.6M420.7 601.0h1.6M444.9 577.1h1.6M453.3 578.5h1.6M436.2 617.2h1.6M406.1 611.3h1.6M402.8 627.1h1.6M399.8 610.8h1.6M425.6 593.6h1.6M434.6 578.1h1.6M465.7 584.5h1.6M465.8 579.8h1.6M443.2 619.1h1.6M425.5 613.2h1.6M459.2 570.6h1.6M428.8 613.7h1.6M434.3 587.8h1.6M414.7 598.2h1.6M429.1 625.5h1.6M419.2 600.1h1.6M462.7 563.4h1.6M419.1 610.1h1.6M455.5 587.1h1.6M464.1 586.4h1.6M439.8 621.5h1.6M446.5 600.2h1.6M448.5 576.4h1.6M439.0 578.0h1.6M417.2 604.5h1.6M404.0 616.7h1.6M433.3 610.4h1.6M424.2 586.7h1.6M460.5 576.1h1.6M416.0 617.7h1.6M454.7 598.0h1.6M403.6 621.5h1.6M430.4 609.9h1.6M404.7 605.9h1.6M443.5 607.9h1.6M465.2 585.1h1.6M427.7 583.8h1.6M446.7 612.0h1.6M443.5 586.0h1.6M437.9 594.7h1.6M411.2 628.1h1.6M467.5 590.8h1.6M456.7 573.5h1.6M450.0 610.1h1.6M459.6 575.6h1.6M453.1 591.6h1.6M453.9 619.9h1.6M457.1 606.5h1.6M408.8 610.2h1.6M413.7 620.3h1.6M421.0 620.4h1.6M428.5 584.3h1.6M398.9 621.3h1.6M465.2 572.6h1.6M405.0 609.7h1.6M438.7 593.8h1.6M465.9 583.7h1.6M406.7 620.3h1.6M399.5 609.7h1.6M454.7 608.6h1.6M436.5 617.6h1.6M408.8 596.6h1.6M411.4 609.5h1.6M438.1 615.0h1.6M442.0 601.1h1.6M437.7 580.1h1.6M462.9 583.6h1.6M443.2 606.0h1.6M429.2 590.6h1.6M451.2 579.5h1.6M405.7 602.7h1.6M454.6 574.1h1.6M445.9 623.7h1.6M432.5 580.7h1.6M429.2 616.1h1.6M466.0 568.4h1.6M426.8 628.5h1.6M427.0 620.4h1.6M452.6 600.1h1.6M432.4 585.4h1.6M443.2 593.9h1.6M420.6 601.7h1.6M427.6 619.4h1.6M456.6 600.1h1.6M436.0 583.9h1.6M432.4 586.1h1.6M405.2 611.3h1.6M454.0 601.1h1.6M406.1 601.1h1.6M459.5 606.2h1.6M417.4 625.8h1.6M415.3 599.4h1.6M451.3 602.5h1.6M421.2 596.8h1.6M463.0 598.6h1.6M461.9 598.6h1.6M430.2 597.5h1.6M441.6 591.8h1.6M442.4 596.1h1.6M443.4 616.6h1.6M413.8 609.3h1.6M435.0 601.6h1.6M420.8 600.2h1.6M464.6 574.0h1.6M434.1 584.7h1.6M422.2 616.9h1.6M410.2 598.0h1.6M432.5 627.1h1.6M409.4 619.7h1.6M425.8 597.2h1.6M463.0 559.9h1.6M447.1 599.7h1.6M406.5 616.7h1.6M455.4 618.2h1.6M413.2 627.3h1.6M454.7 572.6h1.6M398.1 621.8h1.6M455.8 562.5h1.6M451.7 614.5h1.6M442.4 619.1h1.6M466.9 580.2h1.6M419.9 607.6h1.6M445.9 620.4h1.6M437.7 576.2h1.6M415.6 596.8h1.6M407.5 621.2h1.6M460.2 573.7h1.6M446.8 606.8h1.6M406.5 614.9h1.6M451.6 578.6h1.6M452.0 590.9h1.6M455.1 567.3h1.6M459.6 567.5h1.6M403.1 613.0h1.6M404.4 606.4h1.6M444.5 622.3h1.6M426.6 589.6h1.6M414.9 615.7h1.6M448.0 615.4h1.6M435.2 608.9h1.6M449.7 571.5h1.6M458.5 604.2h1.6M431.6 584.2h1.6M429.5 598.6h1.6M458.4 574.7h1.6M433.1 614.2h1.6M467.3 592.1h1.6M424.8 619.6h1.6M460.4 584.0h1.6M406.6 604.0h1.6M444.2 578.7h1.6M434.0 577.2h1.6M429.2 591.0h1.6M462.8 591.8h1.6M465.5 565.7h1.6M462.5 604.3h1.6M459.1 586.8h1.6M457.3 618.1h1.6M424.2 618.8h1.6M413.0 612.9h1.6M430.8 586.7h1.6M411.8 616.6h1.6M466.5 572.0h1.6M424.3 586.9h1.6M438.4 623.6h1.6M464.2 603.8h1.6M438.8 589.4h1.6M466.8 586.8h1.6M422.6 587.2h1.6M410.0 627.3h1.6M439.4 596.8h1.6M420.1 593.0h1.6M422.2 615.3h1.6M460.2 573.2h1.6M452.6 589.0h1.6M435.6 596.0h1.6M444.7 608.1h1.6M424.6 625.8h1.6M455.4 578.2h1.6M443.8 572.3h1.6M400.4 611.7h1.6M441.8 576.5h1.6M455.1 589.9h1.6M448.1 581.8h1.6M454.5 600.9h1.6M446.2 554.8h1.6M466.3 571.0h1.6M438.5 569.0h1.6M419.5 580.9h1.6M450.3 549.5h1.6M419.6 572.9h1.6M423.8 573.9h1.6M427.0 576.1h1.6M441.1 579.3h1.6M439.4 554.5h1.6M453.5 550.3h1.6M418.1 577.5h1.6M439.7 575.8h1.6M453.6 544.7h1.6M421.3 570.6h1.6M453.1 568.9h1.6M432.9 574.5h1.6M447.1 543.9h1.6M438.7 566.7h1.6M450.9 543.5h1.6M451.0 565.5h1.6M415.9 574.4h1.6M412.4 575.6h1.6M420.9 561.9h1.6M422.0 583.3h1.6M464.1 548.4h1.6M452.2 572.3h1.6M440.4 546.8h1.6M432.1 584.1h1.6M461.7 547.8h1.6M441.4 557.9h1.6M424.2 562.5h1.6M453.8 574.0h1.6M426.6 585.2h1.6M454.8 564.6h1.6M435.0 551.1h1.6M413.4 583.4h1.6M420.0 563.1h1.6M457.6 552.3h1.6M436.4 570.6h1.6M417.1 568.3h1.6M416.8 573.2h1.6M455.1 537.6h1.6M444.2 581.9h1.6M453.2 559.3h1.6M463.7 551.6h1.6M461.1 543.6h1.6M412.4 581.2h1.6M453.8 575.5h1.6M465.4 537.9h1.6M454.4 573.9h1.6M425.0 571.7h1.6M430.9 575.5h1.6M407.7 586.1h1.6M429.2 578.6h1.6M434.7 579.1h1.6M424.0 563.6h1.6M410.0 581.8h1.6M447.7 556.7h1.6M465.3 536.8h1.6M449.4 574.2h1.6M463.2 557.4h1.6M442.5 579.3h1.6M463.2 547.7h1.6M461.6 570.6h1.6M411.6 587.3h1.6M458.0 574.4h1.6M436.1 560.5h1.6M414.1 561.7h1.6M455.5 539.6h1.6M460.2 556.4h1.6M434.0 569.6h1.6M440.9 583.6h1.6M437.2 561.7h1.6M463.0 560.1h1.6M460.4 572.5h1.6M451.0 576.0h1.6M424.0 574.3h1.6M418.0 564.2h1.6M442.5 577.0h1.6M450.6 575.2h1.6M445.8 577.2h1.6M437.5 564.6h1.6M463.0 569.6h1.6M446.3 566.1h1.6M436.1 575.9h1.6M431.8 556.4h1.6M432.2 564.5h1.6M427.8 554.7h1.6M431.9 553.5h1.6M429.9 558.0h1.6M442.3 553.3h1.6M423.0 559.0h1.6M449.0 578.2h1.6M434.6 554.5h1.6M419.7 578.3h1.6M412.2 566.4h1.6M408.8 574.4h1.6M409.3 578.9h1.6M446.9 559.5h1.6M442.1 556.4h1.6M420.7 585.9h1.6M441.1 550.8h1.6M432.7 579.2h1.6M416.5 573.8h1.6M425.8 586.8h1.6M465.0 551.0h1.6M430.9 568.2h1.6M445.2 551.9h1.6M424.3 567.9h1.6" stroke="#808080" stroke-width="1.6" opacity="1" fill="none"/><g filter="url(#mg)"><polygon points="399.0,618.0 402.0,606.0 415.0,598.0 430.0,592.0 450.0,586.0 464.0,583.0 466.0,595.0 460.0,612.0 448.0,623.0 425.0,627.0 408.0,626.0" fill-opacity="0.75" filter="url(#bl2)"/></g><path d="M494.7 582.0h1.8M473.4 588.7h1.8M474.1 607.3h1.8M470.1 557.9h1.8M479.5 619.3h1.8M470.5 551.3h1.8M469.3 553.3h1.8M476.0 570.5h1.8M490.1 571.4h1.8M480.7 570.7h1.8M490.5 618.8h1.8M479.0 620.5h1.8M473.3 625.9h1.8M482.3 597.8h1.8M477.6 558.8h1.8M469.5 617.1h1.8M476.9 599.4h1.8M480.2 583.0h1.8M471.8 549.8h1.8M476.1 597.7h1.8M488.5 574.1h1.8M467.3 557.7h1.8M472.0 611.2h1.8M483.2 564.0h1.8M473.2 560.7h1.8M474.2 565.9h1.8M491.1 607.9h1.8M488.0 617.1h1.8M486.6 543.8h1.8M466.5 548.6h1.8M473.5 583.2h1.8M492.1 588.6h1.8M479.2 556.0h1.8M497.4 604.6h1.8M476.3 537.4h1.8M497.4 557.3h1.8M493.0 544.1h1.8M486.6 566.9h1.8M494.3 561.2h1.8M468.3 551.9h1.8M486.2 597.8h1.8M474.3 558.9h1.8M466.4 591.2h1.8M476.5 550.7h1.8M479.4 621.4h1.8M473.2 548.6h1.8M485.8 595.4h1.8M481.9 550.1h1.8M493.8 543.5h1.8M470.7 556.0h1.8M482.0 578.3h1.8M483.3 602.1h1.8M494.5 577.5h1.8M466.4 611.9h1.8M465.6 563.2h1.8M469.7 590.2h1.8M490.8 545.2h1.8M474.7 613.9h1.8M487.7 543.3h1.8M487.7 608.4h1.8M478.5 547.8h1.8M486.7 563.3h1.8M469.4 548.6h1.8M478.3 545.1h1.8M477.7 585.4h1.8M483.2 571.4h1.8M491.4 541.3h1.8M475.9 621.7h1.8M493.5 620.5h1.8M490.3 583.9h1.8M491.0 587.4h1.8M468.9 557.3h1.8M468.2 616.1h1.8M475.6 571.7h1.8M482.8 542.6h1.8M488.3 608.6h1.8M491.3 616.7h1.8M475.5 546.8h1.8M490.1 598.9h1.8M477.3 565.6h1.8M470.1 612.0h1.8M480.2 610.1h1.8M476.2 563.5h1.8M481.9 603.8h1.8M494.1 566.6h1.8M487.9 571.4h1.8M493.4 605.2h1.8M483.3 567.4h1.8M474.0 617.1h1.8M491.4 562.0h1.8M467.8 551.5h1.8M491.7 583.2h1.8M483.3 584.3h1.8M478.5 585.9h1.8M468.4 546.2h1.8M487.2 593.9h1.8M491.6 598.8h1.8M465.4 555.5h1.8M490.7 547.5h1.8M482.5 606.2h1.8M470.2 583.1h1.8M494.7 604.0h1.8M478.1 578.5h1.8M474.2 624.3h1.8M490.8 597.6h1.8M475.0 602.5h1.8M481.1 608.8h1.8M477.0 616.7h1.8M487.6 575.8h1.8M483.6 609.5h1.8" stroke="#ee0000" stroke-width="1.8" opacity="1" fill="none"/><g filter="url(#mr)"><rect x="466" y="538" width="29.8" height="83" rx="6" ry="10" fill-opacity="0.9" filter="url(#bl1)"/></g></g><rect x="394.5" y="526.8" width="46.7" height="20.3" fill="#fff" stroke="#000" stroke-width="0.9"/><text x="398.50" y="535.60" font-size="7.2" text-anchor="start" fill="#d42020" font-weight="normal" >PCs</text><text x="398.50" y="544.50" font-size="7.2" text-anchor="start" fill="#7a7a7a" font-weight="normal" >Singlets</text><path d="M422.36 638.40v1.9M416.94 638.40v1.9M424.94 638.40v1.9M414.36 638.40v1.9M427.34 638.40v1.9M411.96 638.40v1.9M429.51 638.40v1.9M409.79 638.40v1.9M431.46 638.40v1.9M407.84 638.40v1.9M433.21 638.40v1.9M406.09 638.40v1.9M434.78 638.40v1.9M404.52 638.40v1.9M436.21 638.40v1.9M403.09 638.40v1.9M437.51 638.40v1.9M401.79 638.40v1.9M438.70 638.40v3.4M400.60 638.40v3.4M446.94 638.40v1.9M451.93 638.40v1.9M455.51 638.40v1.9M458.29 638.40v1.9M460.57 638.40v1.9M462.50 638.40v1.9M464.17 638.40v1.9M465.64 638.40v1.9M466.96 638.40v3.4M475.65 638.40v1.9M480.74 638.40v1.9M484.34 638.40v1.9M487.14 638.40v1.9M489.43 638.40v1.9M491.36 638.40v1.9M493.04 638.40v1.9M494.51 638.40v1.9M495.83 638.40v3.4M504.53 638.40v1.9M419.65 638.40v3.4M419.92 638.40v1.9M419.38 638.40v1.9M420.20 638.40v1.9M419.10 638.40v1.9M420.47 638.40v1.9M418.83 638.40v1.9M420.74 638.40v1.9M418.56 638.40v1.9M421.01 638.40v1.9M418.29 638.40v1.9M421.28 638.40v1.9M418.02 638.40v1.9M421.55 638.40v1.9M417.75 638.40v1.9M421.82 638.40v1.9M417.48 638.40v1.9M422.09 638.40v1.9M417.21 638.40v1.9" stroke="#000" stroke-width="0.75" fill="none"/><text x="400.60" y="652.20" font-size="6.8" letter-spacing="0.35" text-anchor="middle" fill="#111" stroke="#111" stroke-width="0.12">-10<tspan dy="-2.6" font-size="4.6">3</tspan></text><text x="419.65" y="652.20" font-size="6.8" letter-spacing="0.35" text-anchor="middle" fill="#111" stroke="#111" stroke-width="0.12">0</text><text x="438.70" y="652.20" font-size="6.8" letter-spacing="0.35" text-anchor="middle" fill="#111" stroke="#111" stroke-width="0.12">10<tspan dy="-2.6" font-size="4.6">3</tspan></text><text x="466.96" y="652.20" font-size="6.8" letter-spacing="0.35" text-anchor="middle" fill="#111" stroke="#111" stroke-width="0.12">10<tspan dy="-2.6" font-size="4.6">4</tspan></text><text x="495.83" y="652.20" font-size="6.8" letter-spacing="0.35" text-anchor="middle" fill="#111" stroke="#111" stroke-width="0.12">10<tspan dy="-2.6" font-size="4.6">5</tspan></text><path d="M394.50 610.11h-1.9M394.50 619.66h-1.9M394.50 605.78h-1.9M394.50 623.99h-1.9M394.50 602.07h-1.9M394.50 627.70h-1.9M394.50 598.93h-1.9M394.50 630.84h-1.9M394.50 596.26h-1.9M394.50 633.51h-1.9M394.50 593.96h-1.9M394.50 635.81h-1.9M394.50 591.95h-1.9M394.50 637.83h-1.9M394.50 590.16h-1.9M394.50 588.57h-1.9M394.50 587.12h-3.4M394.50 577.41h-1.9M394.50 571.63h-1.9M394.50 567.52h-1.9M394.50 564.32h-1.9M394.50 561.71h-1.9M394.50 559.50h-1.9M394.50 557.59h-1.9M394.50 555.90h-1.9M394.50 554.39h-3.4M394.50 544.45h-1.9M394.50 538.63h-1.9M394.50 534.50h-1.9M394.50 531.30h-1.9M394.50 528.69h-1.9M394.50 614.89h-3.4M394.50 614.40h-1.9M394.50 615.37h-1.9M394.50 613.91h-1.9M394.50 615.86h-1.9M394.50 613.43h-1.9M394.50 616.34h-1.9M394.50 612.95h-1.9M394.50 616.83h-1.9M394.50 612.47h-1.9M394.50 617.31h-1.9M394.50 611.99h-1.9M394.50 617.78h-1.9M394.50 611.51h-1.9M394.50 618.26h-1.9M394.50 611.04h-1.9M394.50 618.73h-1.9M394.50 610.57h-1.9M394.50 619.20h-1.9" stroke="#000" stroke-width="0.75" fill="none"/><text x="388.05" y="617.29" font-size="6.8" letter-spacing="0.35" text-anchor="end" fill="#111" stroke="#111" stroke-width="0.12">0</text><text x="388.05" y="589.52" font-size="6.8" letter-spacing="0.35" text-anchor="end" fill="#111" stroke="#111" stroke-width="0.12">10<tspan dy="-2.6" font-size="4.6">3</tspan></text><text x="388.05" y="556.79" font-size="6.8" letter-spacing="0.35" text-anchor="end" fill="#111" stroke="#111" stroke-width="0.12">10<tspan dy="-2.6" font-size="4.6">4</tspan></text><rect x="394.50" y="526.80" width="111.90" height="111.60" fill="none" stroke="#000" stroke-width="1.0"/><text transform="translate(450.45,667.80) scale(0.58,1)" font-size="10" font-weight="bold" text-anchor="middle" fill="#111">CS1</text><text transform="translate(370.20,582.60) rotate(-90) scale(0.66,1)" font-size="10" font-weight="bold" text-anchor="middle" fill="#111">CD138</text>
<rect x="41" y="691" width="130.5" height="86" fill="#faf8fa" stroke="#4a4a4a" stroke-width="1.5"/><rect x="186" y="692" width="92" height="86" fill="#eef6fa" stroke="#4a4a4a" stroke-width="1.5"/><g clip-path="url(#cc1)"><g filter="url(#tex)"><path d="M46.4 718.4C46.8 715.2 48.1 713.6 50.3 711.9C52.4 710.2 56.3 709.0 59.3 708.0C62.3 707.0 65.6 705.8 68.4 706.0C71.2 706.2 73.8 707.7 76.1 709.3C78.4 710.9 80.8 713.6 82.5 715.8C84.2 717.9 86.0 720.1 86.4 722.2C86.8 724.4 86.0 726.8 85.1 728.7C84.2 730.6 83.6 732.5 81.2 733.8C78.8 735.1 74.3 735.8 70.9 736.4C67.5 737.0 63.6 737.7 60.6 737.7C57.6 737.7 55.0 737.5 52.9 736.4C50.8 735.3 48.8 734.2 47.7 731.2C46.6 728.2 46.0 721.6 46.4 718.4Z" fill="url(#cyt1)" stroke="#fff" stroke-width="1.1"/><path d="M78.7 704.2C79.6 701.6 82.5 700.1 85.1 699.0C87.7 697.9 91.3 697.3 94.1 697.7C96.9 698.1 100.2 699.5 101.9 701.6C103.6 703.8 104.2 707.8 104.4 710.6C104.6 713.4 104.7 716.7 103.2 718.4C101.7 720.1 98.2 720.7 95.4 720.9C92.6 721.1 89.0 720.7 86.4 719.6C83.8 718.5 81.2 717.1 79.9 714.5C78.6 711.9 77.8 706.8 78.7 704.2Z" fill="url(#cyt1)" stroke="#fff" stroke-width="1.1"/><path d="M89.9 752.9C89.8 756.1 88.3 759.9 86.6 762.6C84.9 765.4 82.7 767.9 79.8 769.3C76.9 770.8 72.8 771.5 69.4 771.5C66.0 771.5 62.3 771.1 59.2 769.6C56.2 768.0 53.1 765.1 51.3 762.3C49.5 759.5 48.2 756.0 48.3 752.9C48.4 749.8 50.3 746.4 52.1 743.6C54.0 740.9 56.5 738.0 59.4 736.4C62.3 734.8 66.0 734.1 69.4 734.2C72.8 734.3 76.6 735.4 79.6 736.9C82.6 738.4 85.9 740.5 87.6 743.2C89.3 745.9 90.1 749.7 89.9 752.9Z" fill="url(#cyt1)" stroke="#fff" stroke-width="1.1"/><path d="M83.8 728.7C85.2 725.5 88.5 723.6 91.5 722.2C94.5 720.8 98.5 720.2 101.9 720.4C105.4 720.6 109.6 721.7 112.2 723.5C114.8 725.3 116.5 727.8 117.3 731.2C118.1 734.6 117.4 740.2 116.8 744.1C116.2 748.0 115.6 751.6 113.5 754.4C111.4 757.2 107.6 760.0 104.4 760.9C101.2 761.8 97.1 760.9 94.1 759.6C91.1 758.3 88.2 756.1 86.4 753.1C84.6 750.1 83.7 745.6 83.3 741.5C82.9 737.4 82.4 731.9 83.8 728.7Z" fill="url(#cyt1)" stroke="#fff" stroke-width="1.1"/><path d="M117.3 728.7C117.7 724.2 120.1 721.5 122.5 719.6C124.9 717.7 128.5 716.9 131.5 717.1C134.5 717.3 138.1 718.5 140.5 720.9C142.9 723.2 145.0 727.3 145.7 731.2C146.3 735.1 145.7 740.7 144.4 744.1C143.1 747.5 140.7 750.4 137.9 751.9C135.1 753.4 130.6 754.0 127.6 753.1C124.6 752.2 121.6 750.8 119.9 746.7C118.2 742.6 116.9 733.2 117.3 728.7Z" fill="url(#cyt1)" stroke="#fff" stroke-width="1.1"/><path d="M131.5 709.3C132.1 707.1 135.1 705.7 137.9 704.2C140.7 702.7 144.8 700.7 148.2 700.3C151.6 699.9 155.8 700.3 158.6 701.6C161.4 702.9 164.2 704.8 165.0 708.0C165.8 711.2 164.8 717.7 163.7 720.9C162.6 724.1 161.2 726.1 158.6 727.4C156.0 728.7 151.2 729.4 148.2 728.7C145.2 728.1 142.8 725.4 140.5 723.5C138.2 721.6 135.6 719.5 134.1 717.1C132.6 714.7 130.9 711.4 131.5 709.3Z" fill="url(#cyt1)" stroke="#fff" stroke-width="1.1"/><ellipse cx="67.8" cy="725.6" rx="7.7" ry="7.2" fill="url(#nuc1)" opacity="1.0" filter="url(#cb)"/><circle cx="65.4" cy="724.7" r="1.0" fill="#c07ae0" opacity="0.45"/><circle cx="66.2" cy="724.5" r="1.5" fill="#c07ae0" opacity="0.45"/><circle cx="71.8" cy="724.5" r="1.4" fill="#c07ae0" opacity="0.45"/><circle cx="68.4" cy="725.9" r="1.0" fill="#c07ae0" opacity="0.45"/><circle cx="69.5" cy="727.2" r="1.5" fill="#c07ae0" opacity="0.45"/><circle cx="70.6" cy="721.1" r="1.0" fill="#c07ae0" opacity="0.45"/><circle cx="67.8" cy="725.7" r="1.0" fill="#c07ae0" opacity="0.45"/><ellipse cx="91.5" cy="710.1" rx="7.3" ry="7.0" fill="url(#nuc1)" opacity="1.0" filter="url(#cb)"/><circle cx="94.2" cy="711.1" r="1.0" fill="#c07ae0" opacity="0.45"/><circle cx="90.1" cy="707.5" r="1.2" fill="#c07ae0" opacity="0.45"/><circle cx="90.3" cy="713.8" r="1.3" fill="#c07ae0" opacity="0.45"/><circle cx="90.9" cy="707.7" r="1.1" fill="#c07ae0" opacity="0.45"/><circle cx="91.5" cy="710.3" r="1.1" fill="#c07ae0" opacity="0.45"/><circle cx="90.7" cy="709.4" r="1.4" fill="#c07ae0" opacity="0.45"/><circle cx="94.9" cy="707.0" r="1.4" fill="#c07ae0" opacity="0.45"/><ellipse cx="65.4" cy="756.6" rx="8.4" ry="8.2" fill="url(#nuc1)" opacity="1.0" filter="url(#cb)"/><circle cx="64.3" cy="756.7" r="1.0" fill="#c07ae0" opacity="0.45"/><circle cx="64.9" cy="750.6" r="0.9" fill="#c07ae0" opacity="0.45"/><circle cx="67.6" cy="756.7" r="1.0" fill="#c07ae0" opacity="0.45"/><circle cx="64.8" cy="756.2" r="1.4" fill="#c07ae0" opacity="0.45"/><circle cx="62.4" cy="761.4" r="1.0" fill="#c07ae0" opacity="0.45"/><circle cx="65.0" cy="757.6" r="1.5" fill="#c07ae0" opacity="0.45"/><circle cx="61.0" cy="753.9" r="0.8" fill="#c07ae0" opacity="0.45"/><ellipse cx="100" cy="744.1" rx="8.3" ry="8.0" fill="url(#nuc1)" opacity="1.0" filter="url(#cb)"/><circle cx="95.6" cy="742.9" r="1.5" fill="#c07ae0" opacity="0.45"/><circle cx="100.6" cy="743.9" r="1.1" fill="#c07ae0" opacity="0.45"/><circle cx="103.3" cy="744.1" r="1.5" fill="#c07ae0" opacity="0.45"/><circle cx="100.0" cy="744.3" r="1.5" fill="#c07ae0" opacity="0.45"/><circle cx="99.7" cy="747.5" r="1.1" fill="#c07ae0" opacity="0.45"/><circle cx="94.9" cy="741.5" r="1.5" fill="#c07ae0" opacity="0.45"/><circle cx="101.1" cy="743.0" r="1.4" fill="#c07ae0" opacity="0.45"/><ellipse cx="124.5" cy="731.2" rx="7.4" ry="7.6" fill="url(#nuc1)" opacity="1.0" filter="url(#cb)"/><circle cx="126.8" cy="731.5" r="1.5" fill="#c07ae0" opacity="0.45"/><circle cx="124.4" cy="733.3" r="1.2" fill="#c07ae0" opacity="0.45"/><circle cx="124.8" cy="735.2" r="1.3" fill="#c07ae0" opacity="0.45"/><circle cx="128.7" cy="734.1" r="0.9" fill="#c07ae0" opacity="0.45"/><circle cx="123.9" cy="729.3" r="0.9" fill="#c07ae0" opacity="0.45"/><circle cx="129.4" cy="733.9" r="1.4" fill="#c07ae0" opacity="0.45"/><circle cx="120.2" cy="732.4" r="1.5" fill="#c07ae0" opacity="0.45"/><ellipse cx="151.3" cy="716.3" rx="8.3" ry="7.8" fill="url(#nuc1)" opacity="1.0" filter="url(#cb)"/><circle cx="154.3" cy="714.9" r="1.0" fill="#c07ae0" opacity="0.45"/><circle cx="145.2" cy="715.6" r="1.3" fill="#c07ae0" opacity="0.45"/><circle cx="148.8" cy="712.0" r="1.1" fill="#c07ae0" opacity="0.45"/><circle cx="146.4" cy="714.5" r="0.9" fill="#c07ae0" opacity="0.45"/><circle cx="151.4" cy="716.2" r="1.2" fill="#c07ae0" opacity="0.45"/><circle cx="150.5" cy="715.9" r="1.4" fill="#c07ae0" opacity="0.45"/><circle cx="150.2" cy="716.7" r="1.1" fill="#c07ae0" opacity="0.45"/><circle cx="52" cy="751" r="1.3" fill="#eee4f7" opacity="0.8"/><circle cx="56" cy="744" r="1" fill="#eee4f7" opacity="0.8"/><circle cx="60" cy="733" r="0.9" fill="#eee4f7" opacity="0.8"/><circle cx="77" cy="719" r="1.2" fill="#eee4f7" opacity="0.8"/><circle cx="80" cy="726" r="1" fill="#eee4f7" opacity="0.8"/><circle cx="94" cy="735" r="1.1" fill="#eee4f7" opacity="0.8"/><circle cx="108" cy="740" r="1.2" fill="#eee4f7" opacity="0.8"/><circle cx="140" cy="735" r="1.1" fill="#eee4f7" opacity="0.8"/><circle cx="157" cy="712" r="0.9" fill="#eee4f7" opacity="0.8"/><circle cx="161" cy="718" r="1" fill="#eee4f7" opacity="0.8"/><circle cx="53" cy="727" r="0.8" fill="#eee4f7" opacity="0.8"/><circle cx="86" cy="764" r="0.9" fill="#eee4f7" opacity="0.8"/><circle cx="58" cy="765" r="0.8" fill="#eee4f7" opacity="0.8"/><circle cx="113" cy="732" r="0.9" fill="#eee4f7" opacity="0.8"/></g></g><g clip-path="url(#cc2)"><g filter="url(#tex)"><path d="M196.9 708.5C197.8 705.1 200.0 703.0 202.5 701.1C205.0 699.2 208.6 698.2 211.7 697.4C214.8 696.6 217.8 696.4 220.9 696.5C224.0 696.6 227.4 697.2 230.2 698.3C233.0 699.4 236.0 700.9 237.5 702.9C239.0 704.9 239.4 707.8 239.4 710.3C239.4 712.8 238.4 715.2 237.5 717.7C236.6 720.2 235.6 722.6 233.8 725.1C232.0 727.6 229.3 730.5 226.5 732.5C223.7 734.5 220.3 736.5 217.2 737.1C214.1 737.7 210.8 737.3 208.0 736.2C205.2 735.1 202.4 733.1 200.6 730.6C198.8 728.1 197.5 725.1 196.9 721.4C196.3 717.7 196.0 711.9 196.9 708.5Z" fill="url(#cyt2)" stroke="#fff" stroke-width="1.1"/><path d="M240.3 704.8C241.2 702.3 242.6 700.4 244.9 699.2C247.2 698.0 251.0 697.2 254.1 697.4C257.2 697.6 260.8 698.7 263.4 700.2C266.0 701.7 268.6 704.0 269.8 706.6C271.0 709.2 271.1 712.7 270.8 715.8C270.5 718.9 269.6 722.3 268.0 725.1C266.4 727.9 264.1 731.0 261.5 732.5C258.9 734.0 255.1 734.6 252.3 734.3C249.5 734.0 246.9 732.5 244.9 730.6C242.9 728.8 241.2 726.0 240.3 723.2C239.4 720.4 239.4 717.1 239.4 714.0C239.4 710.9 239.4 707.3 240.3 704.8Z" fill="url(#cyt2)" stroke="#fff" stroke-width="1.1"/><path d="M191.4 750.9C192.6 748.7 194.4 745.4 196.9 743.5C199.4 741.6 203.1 740.2 206.2 739.8C209.3 739.3 212.9 739.9 215.4 740.8C217.9 741.7 219.4 743.1 220.9 745.4C222.4 747.7 224.1 751.5 224.6 754.6C225.1 757.7 224.9 761.3 223.7 763.8C222.5 766.3 219.8 768.2 217.2 769.4C214.6 770.6 211.1 771.2 208.0 771.2C204.9 771.2 201.4 770.6 198.8 769.4C196.2 768.2 193.9 765.9 192.3 763.8C190.8 761.6 189.7 758.6 189.5 756.5C189.3 754.4 190.2 753.1 191.4 750.9Z" fill="url(#cyt2)" stroke="#fff" stroke-width="1.1"/><path d="M219.1 739.8C220.0 736.3 223.4 735.1 226.5 733.4C229.6 731.7 233.8 730.0 237.5 729.7C241.2 729.4 245.2 730.1 248.6 731.5C252.0 732.9 255.7 735.4 257.8 738.0C259.9 740.6 261.2 743.8 261.5 747.2C261.8 750.6 261.2 755.2 259.7 758.3C258.2 761.4 255.1 763.6 252.3 765.7C249.5 767.9 246.2 770.6 243.1 771.2C240.0 771.8 236.6 770.6 233.8 769.4C231.0 768.2 228.7 766.3 226.5 763.8C224.3 761.3 222.1 758.6 220.9 754.6C219.7 750.6 218.2 743.3 219.1 739.8Z" fill="url(#cyt2)" stroke="#fff" stroke-width="1.1"/><ellipse cx="216.3" cy="713.1" rx="11.3" ry="10.2" fill="url(#nuc2)" opacity="1.0" filter="url(#cb)"/><circle cx="213.2" cy="711.3" r="0.8" fill="#c07ae0" opacity="0.45"/><circle cx="221.4" cy="716.1" r="0.9" fill="#c07ae0" opacity="0.45"/><circle cx="216.1" cy="719.3" r="1.4" fill="#c07ae0" opacity="0.45"/><circle cx="217.4" cy="712.2" r="0.8" fill="#c07ae0" opacity="0.45"/><circle cx="216.4" cy="708.5" r="1.1" fill="#c07ae0" opacity="0.45"/><circle cx="219.9" cy="713.5" r="1.0" fill="#c07ae0" opacity="0.45"/><circle cx="209.2" cy="709.2" r="0.9" fill="#c07ae0" opacity="0.45"/><ellipse cx="254.2" cy="714" rx="9.3" ry="9.3" fill="url(#nuc2)" opacity="1.0" filter="url(#cb)"/><circle cx="258.5" cy="716.2" r="0.9" fill="#c07ae0" opacity="0.45"/><circle cx="254.7" cy="717.0" r="1.5" fill="#c07ae0" opacity="0.45"/><circle cx="253.2" cy="716.0" r="1.1" fill="#c07ae0" opacity="0.45"/><circle cx="255.7" cy="716.4" r="1.3" fill="#c07ae0" opacity="0.45"/><circle cx="251.7" cy="719.0" r="0.9" fill="#c07ae0" opacity="0.45"/><circle cx="257.7" cy="716.6" r="1.1" fill="#c07ae0" opacity="0.45"/><circle cx="254.8" cy="713.6" r="1.3" fill="#c07ae0" opacity="0.45"/><ellipse cx="208" cy="756.5" rx="10" ry="9.6" fill="url(#nuc2)" opacity="1.0" filter="url(#cb)"/><circle cx="206.7" cy="754.2" r="0.9" fill="#c07ae0" opacity="0.45"/><circle cx="203.7" cy="753.0" r="1.1" fill="#c07ae0" opacity="0.45"/><circle cx="202.9" cy="757.3" r="1.2" fill="#c07ae0" opacity="0.45"/><circle cx="206.8" cy="757.1" r="1.1" fill="#c07ae0" opacity="0.45"/><circle cx="201.6" cy="754.5" r="1.5" fill="#c07ae0" opacity="0.45"/><circle cx="205.7" cy="755.7" r="1.0" fill="#c07ae0" opacity="0.45"/><circle cx="204.2" cy="752.6" r="1.0" fill="#c07ae0" opacity="0.45"/><ellipse cx="238" cy="750" rx="11.5" ry="11" fill="url(#nuc2)" opacity="0.55" filter="url(#cb)"/><circle cx="234.8" cy="742.3" r="1.1" fill="#c07ae0" opacity="0.45"/><circle cx="241.5" cy="748.6" r="1.3" fill="#c07ae0" opacity="0.45"/><circle cx="239.2" cy="748.8" r="1.0" fill="#c07ae0" opacity="0.45"/><circle cx="238.6" cy="749.9" r="1.0" fill="#c07ae0" opacity="0.45"/><circle cx="231.6" cy="750.9" r="1.2" fill="#c07ae0" opacity="0.45"/><circle cx="243.2" cy="747.6" r="0.8" fill="#c07ae0" opacity="0.45"/><circle cx="238.3" cy="750.1" r="1.1" fill="#c07ae0" opacity="0.45"/><circle cx="243" cy="707" r="1.1" fill="#efe6f8" opacity="0.8"/><circle cx="244" cy="712" r="0.9" fill="#efe6f8" opacity="0.8"/><circle cx="267" cy="725" r="1.2" fill="#efe6f8" opacity="0.8"/><circle cx="196" cy="760" r="1" fill="#efe6f8" opacity="0.8"/><circle cx="257" cy="760" r="0.9" fill="#efe6f8" opacity="0.8"/><circle cx="249" cy="745" r="1.0" fill="#efe6f8" opacity="0.8"/><circle cx="230" cy="727" r="0.8" fill="#efe6f8" opacity="0.8"/></g></g>
<text x="8" y="19.3" font-size="14" font-weight="bold" fill="#000">A</text>
<text x="8.6" y="364.3" font-size="14" font-weight="bold" fill="#000">B</text>
<text x="8.3" y="691.4" font-size="14" font-weight="bold" fill="#000">C</text>
<rect x="0" y="0" width="520" height="1.1" fill="#000"/>
<rect x="0" y="0" width="1.1" height="788" fill="#000"/>
<rect x="518.9" y="0" width="1.1" height="788" fill="#000"/>
<rect x="0" y="786.5" width="520" height="1.5" fill="#000"/>
</svg></body></html>
